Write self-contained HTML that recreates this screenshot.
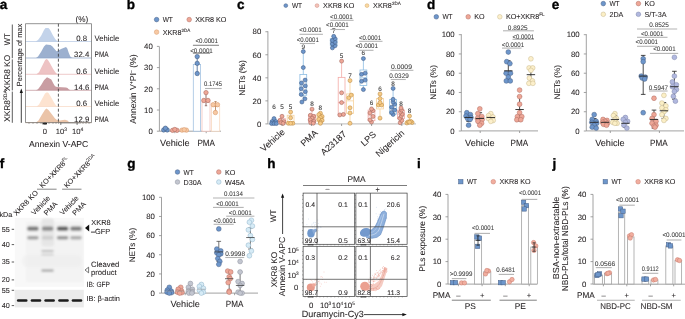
<!DOCTYPE html>
<html><head><meta charset="utf-8"><style>
html,body{margin:0;padding:0;background:#fff;}
svg{display:block;will-change:transform;font-family:"Liberation Sans", sans-serif;text-rendering:geometricPrecision;}
</style></head><body>
<svg width="685" height="319" viewBox="0 0 685 319" xmlns="http://www.w3.org/2000/svg">
<text x="-0.3" y="9.2" font-size="13.5" text-anchor="start" fill="#000" stroke="#000" stroke-width="0.35" font-weight="bold">a</text>
<text x="81.8" y="21.6" font-size="8.2" text-anchor="middle" fill="#231f20" stroke="#231f20" stroke-width="0.07">(%)</text>
<path d="M35.50,41.50 L38.00,40.00 L41.00,36.00 L44.00,30.00 L45.50,28.10 L48.50,28.10 L50.00,29.70 L53.00,35.50 L55.50,39.50 L57.50,41.20 L60.00,41.50 Z" fill="#c3d3ea"/>
<line x1="25.5" y1="41.5" x2="91.5" y2="41.5" stroke="#b3c6e3" stroke-width="0.7"/>
<text x="81.7" y="40.9" font-size="7.8" text-anchor="middle" fill="#231f20" stroke="#231f20" stroke-width="0.07">0.8</text>
<text x="94.6" y="40.9" font-size="7.8" text-anchor="start" fill="#231f20" stroke="#231f20" stroke-width="0.07" textLength="24.6" lengthAdjust="spacingAndGlyphs">Vehicle</text>
<path d="M36.00,58.00 L38.00,56.50 L41.00,52.00 L44.00,46.50 L46.00,44.60 L48.00,44.80 L50.50,45.00 L52.50,46.50 L55.00,49.50 L56.50,51.20 L58.50,50.50 L61.00,49.00 L63.50,48.00 L66.00,47.00 L67.30,48.50 L68.80,53.00 L70.30,56.50 L72.00,57.70 L74.00,58.00 Z" fill="#9cb0cf"/>
<line x1="25.5" y1="58.0" x2="91.5" y2="58.0" stroke="#8ea5c7" stroke-width="0.7"/>
<text x="81.7" y="57.4" font-size="7.8" text-anchor="middle" fill="#231f20" stroke="#231f20" stroke-width="0.07">32.4</text>
<text x="94.6" y="57.4" font-size="7.8" text-anchor="start" fill="#231f20" stroke="#231f20" stroke-width="0.07" textLength="14.0" lengthAdjust="spacingAndGlyphs">PMA</text>
<path d="M36.40,74.30 L39.00,72.30 L42.00,66.30 L45.00,60.30 L46.30,59.10 L47.80,59.70 L50.00,63.30 L53.00,68.80 L55.50,72.50 L57.20,74.00 L59.00,74.30 Z" fill="#eec3c4"/>
<line x1="25.5" y1="74.3" x2="91.5" y2="74.3" stroke="#e8b3b5" stroke-width="0.7"/>
<text x="81.7" y="73.7" font-size="7.8" text-anchor="middle" fill="#231f20" stroke="#231f20" stroke-width="0.07">0.6</text>
<text x="94.6" y="73.7" font-size="7.8" text-anchor="start" fill="#231f20" stroke="#231f20" stroke-width="0.07" textLength="24.6" lengthAdjust="spacingAndGlyphs">Vehicle</text>
<path d="M35.90,90.30 L38.00,89.30 L41.00,85.30 L44.00,80.30 L47.00,77.30 L49.00,78.30 L51.30,79.60 L53.50,83.80 L55.00,86.30 L57.00,87.10 L62.00,87.30 L66.00,87.50 L67.50,88.10 L69.00,89.50 L70.50,90.30 Z" fill="#c99da2"/>
<line x1="25.5" y1="90.3" x2="91.5" y2="90.3" stroke="#be8f95" stroke-width="0.7"/>
<text x="81.7" y="89.7" font-size="7.8" text-anchor="middle" fill="#231f20" stroke="#231f20" stroke-width="0.07">14.6</text>
<text x="94.6" y="89.7" font-size="7.8" text-anchor="start" fill="#231f20" stroke="#231f20" stroke-width="0.07" textLength="14.0" lengthAdjust="spacingAndGlyphs">PMA</text>
<path d="M36.60,106.50 L39.00,104.50 L42.00,99.00 L45.00,93.50 L47.00,92.20 L48.50,93.00 L51.00,97.00 L54.00,102.50 L56.00,105.50 L57.50,106.50 L59.00,106.50 Z" fill="#fde3d0"/>
<line x1="25.5" y1="106.5" x2="91.5" y2="106.5" stroke="#f8d7c1" stroke-width="0.7"/>
<text x="81.7" y="105.9" font-size="7.8" text-anchor="middle" fill="#231f20" stroke="#231f20" stroke-width="0.07">0.6</text>
<text x="94.6" y="105.9" font-size="7.8" text-anchor="start" fill="#231f20" stroke="#231f20" stroke-width="0.07" textLength="24.6" lengthAdjust="spacingAndGlyphs">Vehicle</text>
<path d="M36.00,122.60 L38.50,120.60 L42.00,114.60 L45.00,109.80 L46.50,108.40 L48.50,110.10 L52.00,114.60 L55.00,118.60 L57.00,120.10 L60.00,120.40 L63.00,120.00 L65.00,119.80 L67.50,120.60 L69.00,122.10 L70.50,122.60 Z" fill="#ebc4a8"/>
<line x1="25.5" y1="122.6" x2="91.5" y2="122.6" stroke="#e2b797" stroke-width="0.7"/>
<text x="81.7" y="122.0" font-size="7.8" text-anchor="middle" fill="#231f20" stroke="#231f20" stroke-width="0.07">12.9</text>
<text x="94.6" y="122.0" font-size="7.8" text-anchor="start" fill="#231f20" stroke="#231f20" stroke-width="0.07" textLength="14.0" lengthAdjust="spacingAndGlyphs">PMA</text>
<line x1="25.5" y1="23.7" x2="91.5" y2="23.7" stroke="#777" stroke-width="0.8"/>
<line x1="91.5" y1="23.7" x2="91.5" y2="122.6" stroke="#777" stroke-width="0.8"/>
<line x1="25.5" y1="23.7" x2="25.5" y2="122.6" stroke="#777" stroke-width="0.8"/>
<line x1="25.5" y1="122.6" x2="91.5" y2="122.6" stroke="#777" stroke-width="0.8"/>
<line x1="58.4" y1="23.7" x2="58.4" y2="122.6" stroke="#333" stroke-width="0.8" stroke-dasharray="3,2"/>
<line x1="29" y1="122.6" x2="29" y2="123.89999999999999" stroke="#555" stroke-width="0.5"/>
<line x1="33" y1="122.6" x2="33" y2="123.89999999999999" stroke="#555" stroke-width="0.5"/>
<line x1="37" y1="122.6" x2="37" y2="123.89999999999999" stroke="#555" stroke-width="0.5"/>
<line x1="41" y1="122.6" x2="41" y2="123.89999999999999" stroke="#555" stroke-width="0.5"/>
<line x1="45" y1="122.6" x2="45" y2="123.89999999999999" stroke="#555" stroke-width="0.5"/>
<line x1="49" y1="122.6" x2="49" y2="123.89999999999999" stroke="#555" stroke-width="0.5"/>
<line x1="53" y1="122.6" x2="53" y2="123.89999999999999" stroke="#555" stroke-width="0.5"/>
<line x1="56" y1="122.6" x2="56" y2="123.89999999999999" stroke="#555" stroke-width="0.5"/>
<line x1="58.6" y1="122.6" x2="58.6" y2="123.89999999999999" stroke="#555" stroke-width="0.5"/>
<line x1="62" y1="122.6" x2="62" y2="123.89999999999999" stroke="#555" stroke-width="0.5"/>
<line x1="64" y1="122.6" x2="64" y2="123.89999999999999" stroke="#555" stroke-width="0.5"/>
<line x1="66" y1="122.6" x2="66" y2="123.89999999999999" stroke="#555" stroke-width="0.5"/>
<line x1="68" y1="122.6" x2="68" y2="123.89999999999999" stroke="#555" stroke-width="0.5"/>
<line x1="70" y1="122.6" x2="70" y2="123.89999999999999" stroke="#555" stroke-width="0.5"/>
<line x1="72" y1="122.6" x2="72" y2="123.89999999999999" stroke="#555" stroke-width="0.5"/>
<line x1="74" y1="122.6" x2="74" y2="123.89999999999999" stroke="#555" stroke-width="0.5"/>
<line x1="76" y1="122.6" x2="76" y2="123.89999999999999" stroke="#555" stroke-width="0.5"/>
<line x1="78" y1="122.6" x2="78" y2="123.89999999999999" stroke="#555" stroke-width="0.5"/>
<line x1="80" y1="122.6" x2="80" y2="123.89999999999999" stroke="#555" stroke-width="0.5"/>
<line x1="83" y1="122.6" x2="83" y2="123.89999999999999" stroke="#555" stroke-width="0.5"/>
<line x1="86" y1="122.6" x2="86" y2="123.89999999999999" stroke="#555" stroke-width="0.5"/>
<line x1="89" y1="122.6" x2="89" y2="123.89999999999999" stroke="#555" stroke-width="0.5"/>
<rect x="42.5" y="122.8" width="4.5" height="1.6" fill="#222"/>
<line x1="45.0" y1="122.6" x2="45.0" y2="124.89999999999999" stroke="#333" stroke-width="0.7"/>
<line x1="60.8" y1="122.6" x2="60.8" y2="124.89999999999999" stroke="#333" stroke-width="0.7"/>
<line x1="77.1" y1="122.6" x2="77.1" y2="124.89999999999999" stroke="#333" stroke-width="0.7"/>
<text x="44.9" y="134.4" font-size="7.6" text-anchor="middle" fill="#231f20" stroke="#231f20" stroke-width="0.07">0</text>
<text x="61.3" y="134.4" font-size="7.6" text-anchor="middle" fill="#231f20" stroke="#231f20" stroke-width="0.07">10<tspan font-size="5" dy="-3">3</tspan></text>
<text x="77.6" y="134.4" font-size="7.6" text-anchor="middle" fill="#231f20" stroke="#231f20" stroke-width="0.07">10<tspan font-size="5" dy="-3">4</tspan></text>
<text x="58.7" y="146.5" font-size="8.6" text-anchor="middle" fill="#231f20" stroke="#231f20" stroke-width="0.07">Annexin V-APC</text>
<text x="21.7" y="55.0" font-size="7.45" text-anchor="middle" fill="#231f20" stroke="#231f20" stroke-width="0.07" transform="rotate(-90 21.7 55.0)">Percentage of max</text>
<line x1="21.3" y1="122.8" x2="21.3" y2="92" stroke="#111" stroke-width="0.8"/>
<path d="M21.3,88.6 L19.7,93.0 L22.9,93.0 Z" fill="#111"/>
<line x1="12.3" y1="24.5" x2="12.3" y2="58.2" stroke="#333" stroke-width="0.8"/>
<line x1="12.3" y1="59.4" x2="12.3" y2="90.4" stroke="#333" stroke-width="0.8"/>
<line x1="12.3" y1="91.6" x2="12.3" y2="122.8" stroke="#333" stroke-width="0.8"/>
<text x="10.4" y="39.2" font-size="8.3" text-anchor="middle" fill="#231f20" stroke="#231f20" stroke-width="0.07" transform="rotate(-90 10.4 39.2)" textLength="12" lengthAdjust="spacingAndGlyphs">WT</text>
<text x="10.4" y="72.9" font-size="8.3" text-anchor="middle" fill="#231f20" stroke="#231f20" stroke-width="0.07" transform="rotate(-90 10.4 72.9)">XKR8 KO</text>
<text x="10.4" y="106.0" font-size="8.3" text-anchor="middle" fill="#231f20" stroke="#231f20" stroke-width="0.07" transform="rotate(-90 10.4 106.0)">XKR8<tspan font-size="5.1" dy="-3.2">2DA</tspan></text>
<text x="126.8" y="9.2" font-size="13.5" text-anchor="start" fill="#000" stroke="#000" stroke-width="0.35" font-weight="bold">b</text>
<circle cx="156.60" cy="19.60" r="2.3" fill="#6d96cb" stroke="#465f85" stroke-width="0.5"/>
<text x="162.7" y="22.200000000000003" font-size="7.2" text-anchor="start" fill="#231f20" stroke="#231f20" stroke-width="0.07" textLength="10.2" lengthAdjust="spacingAndGlyphs">WT</text>
<circle cx="189.20" cy="19.60" r="2.3" fill="#eea797" stroke="#b06d62" stroke-width="0.5"/>
<text x="195.29999999999998" y="22.200000000000003" font-size="7.2" text-anchor="start" fill="#231f20" stroke="#231f20" stroke-width="0.07">XKR8 KO</text>
<circle cx="156.60" cy="32.10" r="2.3" fill="#f7c9a3" stroke="#d89a6e" stroke-width="0.5"/>
<text x="162.7" y="34.7" font-size="7.2" text-anchor="start" fill="#231f20" stroke="#231f20" stroke-width="0.07">XKR8<tspan font-size="4.6" dy="-3">2DA</tspan></text>
<line x1="159.4" y1="46.6" x2="159.4" y2="131.2" stroke="#8a8a8a" stroke-width="0.8"/>
<line x1="156.9" y1="131.2" x2="159.4" y2="131.2" stroke="#8a8a8a" stroke-width="0.8"/>
<text x="152.8" y="133.95" font-size="7.8" text-anchor="end" fill="#231f20" stroke="#231f20" stroke-width="0.07">0</text>
<line x1="156.9" y1="109.99999999999999" x2="159.4" y2="109.99999999999999" stroke="#8a8a8a" stroke-width="0.8"/>
<text x="152.8" y="112.74999999999999" font-size="7.8" text-anchor="end" fill="#231f20" stroke="#231f20" stroke-width="0.07">10</text>
<line x1="156.9" y1="88.79999999999998" x2="159.4" y2="88.79999999999998" stroke="#8a8a8a" stroke-width="0.8"/>
<text x="152.8" y="91.54999999999998" font-size="7.8" text-anchor="end" fill="#231f20" stroke="#231f20" stroke-width="0.07">20</text>
<line x1="156.9" y1="67.6" x2="159.4" y2="67.6" stroke="#8a8a8a" stroke-width="0.8"/>
<text x="152.8" y="70.35" font-size="7.8" text-anchor="end" fill="#231f20" stroke="#231f20" stroke-width="0.07">30</text>
<line x1="156.9" y1="46.39999999999998" x2="159.4" y2="46.39999999999998" stroke="#8a8a8a" stroke-width="0.8"/>
<text x="152.8" y="49.14999999999998" font-size="7.8" text-anchor="end" fill="#231f20" stroke="#231f20" stroke-width="0.07">40</text>
<line x1="159.4" y1="131.2" x2="221" y2="131.2" stroke="#8a8a8a" stroke-width="0.8"/>
<line x1="174.8" y1="131.2" x2="174.8" y2="133.2" stroke="#8a8a8a" stroke-width="0.8"/>
<line x1="206.2" y1="131.2" x2="206.2" y2="133.2" stroke="#8a8a8a" stroke-width="0.8"/>
<text x="174.8" y="145.8" font-size="9" text-anchor="middle" fill="#231f20" stroke="#231f20" stroke-width="0.07" textLength="29.5" lengthAdjust="spacingAndGlyphs">Vehicle</text>
<text x="206.2" y="145.8" font-size="9" text-anchor="middle" fill="#231f20" stroke="#231f20" stroke-width="0.07" textLength="17.6" lengthAdjust="spacingAndGlyphs">PMA</text>
<text x="135.9" y="89.0" font-size="8.7" text-anchor="middle" fill="#231f20" stroke="#231f20" stroke-width="0.07" transform="rotate(-90 135.9 89.0)">Annexin V<tspan font-size="5" dy="-3">+</tspan><tspan dy="3">PI</tspan><tspan font-size="5" dy="-3">–</tspan><tspan dy="3"> (%)</tspan></text>
<rect x="193.3" y="64.41999999999999" width="7.3" height="66.78" fill="#ffffff" stroke="#a3c2e2" stroke-width="0.8"/>
<rect x="202.0" y="101.94399999999999" width="8.0" height="29.256" fill="#ffffff" stroke="#f2c4bd" stroke-width="0.8"/>
<rect x="211.4" y="106.18399999999998" width="8.3" height="25.016000000000005" fill="#ffffff" stroke="#f8d9c0" stroke-width="0.8"/>
<line x1="197.2" y1="72.89999999999998" x2="197.2" y2="56.57599999999998" stroke="#41628f" stroke-width="0.8"/>
<line x1="195.2" y1="64.41999999999999" x2="199.2" y2="64.41999999999999" stroke="#41628f" stroke-width="0.8"/>
<line x1="196.0" y1="72.89999999999998" x2="198.39999999999998" y2="72.89999999999998" stroke="#41628f" stroke-width="0.7"/>
<line x1="196.0" y1="56.57599999999998" x2="198.39999999999998" y2="56.57599999999998" stroke="#41628f" stroke-width="0.7"/>
<line x1="206.0" y1="105.75999999999999" x2="206.0" y2="93.03999999999999" stroke="#7a4a45" stroke-width="0.8"/>
<line x1="204.0" y1="100.45999999999998" x2="208.0" y2="100.45999999999998" stroke="#7a4a45" stroke-width="0.8"/>
<line x1="204.8" y1="105.75999999999999" x2="207.2" y2="105.75999999999999" stroke="#7a4a45" stroke-width="0.7"/>
<line x1="204.8" y1="93.03999999999999" x2="207.2" y2="93.03999999999999" stroke="#7a4a45" stroke-width="0.7"/>
<line x1="215.5" y1="111.05999999999999" x2="215.5" y2="101.51999999999998" stroke="#b07a50" stroke-width="0.8"/>
<line x1="213.5" y1="106.18399999999998" x2="217.5" y2="106.18399999999998" stroke="#b07a50" stroke-width="0.8"/>
<line x1="214.3" y1="111.05999999999999" x2="216.7" y2="111.05999999999999" stroke="#b07a50" stroke-width="0.7"/>
<line x1="214.3" y1="101.51999999999998" x2="216.7" y2="101.51999999999998" stroke="#b07a50" stroke-width="0.7"/>
<circle cx="197.20" cy="56.58" r="2.2" fill="#6d96cb" stroke="#465f85" stroke-width="0.6"/>
<circle cx="197.20" cy="63.36" r="2.2" fill="#6d96cb" stroke="#465f85" stroke-width="0.6"/>
<circle cx="197.20" cy="73.54" r="2.2" fill="#6d96cb" stroke="#465f85" stroke-width="0.6"/>
<circle cx="206.00" cy="92.62" r="2.2" fill="#eea797" stroke="#b06d62" stroke-width="0.6"/>
<circle cx="203.80" cy="100.46" r="2.2" fill="#eea797" stroke="#b06d62" stroke-width="0.6"/>
<circle cx="208.00" cy="100.46" r="2.2" fill="#eea797" stroke="#b06d62" stroke-width="0.6"/>
<circle cx="213.20" cy="104.70" r="2.2" fill="#f7c9a3" stroke="#d89a6e" stroke-width="0.6"/>
<circle cx="217.50" cy="104.70" r="2.2" fill="#f7c9a3" stroke="#d89a6e" stroke-width="0.6"/>
<circle cx="215.40" cy="112.54" r="2.2" fill="#f7c9a3" stroke="#d89a6e" stroke-width="0.6"/>
<circle cx="163.70" cy="129.93" r="2.2" fill="#6d96cb" stroke="#465f85" stroke-width="0.6"/>
<circle cx="167.20" cy="129.93" r="2.2" fill="#6d96cb" stroke="#465f85" stroke-width="0.6"/>
<circle cx="165.40" cy="128.23" r="2.2" fill="#6d96cb" stroke="#465f85" stroke-width="0.6"/>
<circle cx="172.60" cy="130.35" r="2.2" fill="#eea797" stroke="#b06d62" stroke-width="0.6"/>
<circle cx="177.00" cy="130.35" r="2.2" fill="#eea797" stroke="#b06d62" stroke-width="0.6"/>
<circle cx="174.80" cy="129.50" r="2.2" fill="#eea797" stroke="#b06d62" stroke-width="0.6"/>
<circle cx="182.00" cy="130.14" r="2.2" fill="#f7c9a3" stroke="#d89a6e" stroke-width="0.6"/>
<circle cx="186.40" cy="130.14" r="2.2" fill="#f7c9a3" stroke="#d89a6e" stroke-width="0.6"/>
<circle cx="184.20" cy="129.72" r="2.2" fill="#f7c9a3" stroke="#d89a6e" stroke-width="0.6"/>
<line x1="192.9" y1="45.3" x2="219.0" y2="45.3" stroke="#8a8a8a" stroke-width="1.1"/>
<text x="206.7" y="42.9" font-size="6.6" text-anchor="middle" fill="#3a3a3a" stroke="#3a3a3a" stroke-width="0.07" textLength="22.6" lengthAdjust="spacingAndGlyphs">&lt;0.0001</text>
<line x1="192.9" y1="53.2" x2="210.1" y2="53.2" stroke="#8a8a8a" stroke-width="1.1"/>
<text x="201.5" y="52.6" font-size="6.6" text-anchor="middle" fill="#3a3a3a" stroke="#3a3a3a" stroke-width="0.07" textLength="22.6" lengthAdjust="spacingAndGlyphs">&lt;0.0001</text>
<line x1="205.0" y1="88.5" x2="221.7" y2="88.5" stroke="#b4b4b4" stroke-width="1.1"/>
<text x="213.0" y="86.3" font-size="6.6" text-anchor="middle" fill="#3a3a3a" stroke="#3a3a3a" stroke-width="0.07" textLength="18.0" lengthAdjust="spacingAndGlyphs">0.1745</text>
<text x="237.0" y="9.2" font-size="13.5" text-anchor="start" fill="#000" stroke="#000" stroke-width="0.35" font-weight="bold">c</text>
<circle cx="285.80" cy="5.60" r="1.9" fill="#6d96cb" stroke="#465f85" stroke-width="0.5"/>
<text x="291.90000000000003" y="8.2" font-size="7.2" text-anchor="start" fill="#231f20" stroke="#231f20" stroke-width="0.07" textLength="10.2" lengthAdjust="spacingAndGlyphs">WT</text>
<circle cx="317.00" cy="5.60" r="1.9" fill="#f3c3b9" stroke="#cf8a7e" stroke-width="0.5"/>
<text x="323.1" y="8.2" font-size="7.2" text-anchor="start" fill="#231f20" stroke="#231f20" stroke-width="0.07">XKR8 KO</text>
<circle cx="367.00" cy="5.60" r="1.9" fill="#f8d9a4" stroke="#d6a55e" stroke-width="0.5"/>
<text x="373.1" y="8.2" font-size="7.2" text-anchor="start" fill="#231f20" stroke="#231f20" stroke-width="0.07">XKR8<tspan font-size="4.6" dy="-3">2DA</tspan></text>
<line x1="267.9" y1="31.3" x2="267.9" y2="123.9" stroke="#8a8a8a" stroke-width="0.8"/>
<line x1="265.4" y1="123.9" x2="267.9" y2="123.9" stroke="#8a8a8a" stroke-width="0.8"/>
<text x="261.29999999999995" y="126.65" font-size="7.8" text-anchor="end" fill="#231f20" stroke="#231f20" stroke-width="0.07">0</text>
<line x1="265.4" y1="100.86000000000001" x2="267.9" y2="100.86000000000001" stroke="#8a8a8a" stroke-width="0.8"/>
<text x="261.29999999999995" y="103.61000000000001" font-size="7.8" text-anchor="end" fill="#231f20" stroke="#231f20" stroke-width="0.07">20</text>
<line x1="265.4" y1="77.82000000000001" x2="267.9" y2="77.82000000000001" stroke="#8a8a8a" stroke-width="0.8"/>
<text x="261.29999999999995" y="80.57000000000001" font-size="7.8" text-anchor="end" fill="#231f20" stroke="#231f20" stroke-width="0.07">40</text>
<line x1="265.4" y1="54.780000000000015" x2="267.9" y2="54.780000000000015" stroke="#8a8a8a" stroke-width="0.8"/>
<text x="261.29999999999995" y="57.530000000000015" font-size="7.8" text-anchor="end" fill="#231f20" stroke="#231f20" stroke-width="0.07">60</text>
<line x1="265.4" y1="31.74000000000001" x2="267.9" y2="31.74000000000001" stroke="#8a8a8a" stroke-width="0.8"/>
<text x="261.29999999999995" y="34.49000000000001" font-size="7.8" text-anchor="end" fill="#231f20" stroke="#231f20" stroke-width="0.07">80</text>
<line x1="267.9" y1="123.9" x2="416" y2="123.9" stroke="#c8c8c8" stroke-width="1.1"/>
<text x="245.2" y="78.0" font-size="8.4" text-anchor="middle" fill="#231f20" stroke="#231f20" stroke-width="0.07" transform="rotate(-90 245.2 78.0)">NETs (%)</text>
<line x1="274.0" y1="118.6008" x2="274.0" y2="121.02000000000001" stroke="#8dbde3" stroke-width="0.8"/>
<line x1="274.0" y1="123.5544" x2="274.0" y2="123.9" stroke="#8dbde3" stroke-width="0.8"/>
<rect x="270.6" y="121.02000000000001" width="6.8" height="2.534399999999991" fill="none" stroke="#8dbde3" stroke-width="0.8"/>
<line x1="270.6" y1="122.748" x2="277.4" y2="122.748" stroke="#8dbde3" stroke-width="0.8"/>
<circle cx="274.00" cy="118.60" r="2.0" fill="#6d96cb" stroke="#3c5882" stroke-width="0.55"/>
<circle cx="272.00" cy="121.60" r="2.0" fill="#6d96cb" stroke="#3c5882" stroke-width="0.55"/>
<circle cx="276.00" cy="121.60" r="2.0" fill="#6d96cb" stroke="#3c5882" stroke-width="0.55"/>
<circle cx="271.60" cy="123.55" r="2.0" fill="#6d96cb" stroke="#3c5882" stroke-width="0.55"/>
<circle cx="274.00" cy="123.55" r="2.0" fill="#6d96cb" stroke="#3c5882" stroke-width="0.55"/>
<circle cx="276.40" cy="123.55" r="2.0" fill="#6d96cb" stroke="#3c5882" stroke-width="0.55"/>
<text x="274.0" y="109.0" font-size="6.4" text-anchor="middle" fill="#333" stroke="#333" stroke-width="0.07">6</text>
<line x1="282.0" y1="116.2968" x2="282.0" y2="118.71600000000001" stroke="#f3aaa6" stroke-width="0.8"/>
<line x1="282.0" y1="122.97840000000001" x2="282.0" y2="123.4392" stroke="#f3aaa6" stroke-width="0.8"/>
<rect x="278.6" y="118.71600000000001" width="6.8" height="4.2623999999999995" fill="none" stroke="#f3aaa6" stroke-width="0.8"/>
<line x1="278.6" y1="121.596" x2="285.4" y2="121.596" stroke="#f3aaa6" stroke-width="0.8"/>
<circle cx="282.00" cy="116.30" r="2.0" fill="#eea797" stroke="#9e6158" stroke-width="0.55"/>
<circle cx="280.20" cy="120.44" r="2.0" fill="#eea797" stroke="#9e6158" stroke-width="0.55"/>
<circle cx="283.80" cy="121.60" r="2.0" fill="#eea797" stroke="#9e6158" stroke-width="0.55"/>
<circle cx="281.00" cy="122.75" r="2.0" fill="#eea797" stroke="#9e6158" stroke-width="0.55"/>
<circle cx="283.00" cy="123.44" r="2.0" fill="#eea797" stroke="#9e6158" stroke-width="0.55"/>
<text x="282.0" y="109.0" font-size="6.4" text-anchor="middle" fill="#333" stroke="#333" stroke-width="0.07">5</text>
<line x1="290.6" y1="112.0344" x2="290.6" y2="115.26" stroke="#f7d39c" stroke-width="0.8"/>
<line x1="290.6" y1="123.32400000000001" x2="290.6" y2="123.5544" stroke="#f7d39c" stroke-width="0.8"/>
<rect x="287.20000000000005" y="115.26" width="6.8" height="8.064000000000007" fill="none" stroke="#f7d39c" stroke-width="0.8"/>
<line x1="287.20000000000005" y1="121.596" x2="294.0" y2="121.596" stroke="#f7d39c" stroke-width="0.8"/>
<circle cx="290.60" cy="112.03" r="2.0" fill="#f7cb85" stroke="#b98a45" stroke-width="0.55"/>
<circle cx="290.60" cy="117.79" r="2.0" fill="#f7cb85" stroke="#b98a45" stroke-width="0.55"/>
<circle cx="288.40" cy="123.32" r="2.0" fill="#f7cb85" stroke="#b98a45" stroke-width="0.55"/>
<circle cx="292.80" cy="123.32" r="2.0" fill="#f7cb85" stroke="#b98a45" stroke-width="0.55"/>
<circle cx="290.60" cy="123.32" r="2.0" fill="#f7cb85" stroke="#b98a45" stroke-width="0.55"/>
<text x="290.6" y="109.0" font-size="6.4" text-anchor="middle" fill="#333" stroke="#333" stroke-width="0.07">5</text>
<line x1="303.3" y1="51.554400000000015" x2="303.3" y2="74.47920000000002" stroke="#8dbde3" stroke-width="0.8"/>
<line x1="303.3" y1="95.21520000000001" x2="303.3" y2="102.012" stroke="#8dbde3" stroke-width="0.8"/>
<rect x="299.90000000000003" y="74.47920000000002" width="6.8" height="20.73599999999999" fill="none" stroke="#8dbde3" stroke-width="0.8"/>
<line x1="299.90000000000003" y1="85.88400000000001" x2="306.7" y2="85.88400000000001" stroke="#8dbde3" stroke-width="0.8"/>
<circle cx="301.90" cy="102.01" r="2.0" fill="#6d96cb" stroke="#3c5882" stroke-width="0.55"/>
<circle cx="304.90" cy="98.79" r="2.0" fill="#6d96cb" stroke="#3c5882" stroke-width="0.55"/>
<circle cx="301.30" cy="94.52" r="2.0" fill="#6d96cb" stroke="#3c5882" stroke-width="0.55"/>
<circle cx="305.30" cy="91.64" r="2.0" fill="#6d96cb" stroke="#3c5882" stroke-width="0.55"/>
<circle cx="301.30" cy="88.76" r="2.0" fill="#6d96cb" stroke="#3c5882" stroke-width="0.55"/>
<circle cx="305.30" cy="85.88" r="2.0" fill="#6d96cb" stroke="#3c5882" stroke-width="0.55"/>
<circle cx="301.50" cy="83.00" r="2.0" fill="#6d96cb" stroke="#3c5882" stroke-width="0.55"/>
<circle cx="305.10" cy="80.12" r="2.0" fill="#6d96cb" stroke="#3c5882" stroke-width="0.55"/>
<circle cx="303.30" cy="67.57" r="2.0" fill="#6d96cb" stroke="#3c5882" stroke-width="0.55"/>
<circle cx="303.30" cy="51.55" r="2.0" fill="#6d96cb" stroke="#3c5882" stroke-width="0.55"/>
<text x="303.3" y="49.0" font-size="6.4" text-anchor="middle" fill="#333" stroke="#333" stroke-width="0.07">9</text>
<line x1="312.0" y1="109.15440000000001" x2="312.0" y2="114.68400000000001" stroke="#f3aaa6" stroke-width="0.8"/>
<line x1="312.0" y1="122.17200000000001" x2="312.0" y2="123.20880000000001" stroke="#f3aaa6" stroke-width="0.8"/>
<rect x="308.6" y="114.68400000000001" width="6.8" height="7.4879999999999995" fill="none" stroke="#f3aaa6" stroke-width="0.8"/>
<line x1="308.6" y1="118.71600000000001" x2="315.4" y2="118.71600000000001" stroke="#f3aaa6" stroke-width="0.8"/>
<circle cx="312.00" cy="109.15" r="2.0" fill="#eea797" stroke="#9e6158" stroke-width="0.55"/>
<circle cx="310.40" cy="115.26" r="2.0" fill="#eea797" stroke="#9e6158" stroke-width="0.55"/>
<circle cx="313.60" cy="116.41" r="2.0" fill="#eea797" stroke="#9e6158" stroke-width="0.55"/>
<circle cx="312.00" cy="118.14" r="2.0" fill="#eea797" stroke="#9e6158" stroke-width="0.55"/>
<circle cx="310.20" cy="119.87" r="2.0" fill="#eea797" stroke="#9e6158" stroke-width="0.55"/>
<circle cx="313.80" cy="121.37" r="2.0" fill="#eea797" stroke="#9e6158" stroke-width="0.55"/>
<circle cx="310.80" cy="122.75" r="2.0" fill="#eea797" stroke="#9e6158" stroke-width="0.55"/>
<circle cx="313.20" cy="123.21" r="2.0" fill="#eea797" stroke="#9e6158" stroke-width="0.55"/>
<text x="312.0" y="105.6" font-size="6.4" text-anchor="middle" fill="#333" stroke="#333" stroke-width="0.07">8</text>
<line x1="320.4" y1="113.1864" x2="320.4" y2="115.83600000000001" stroke="#f7d39c" stroke-width="0.8"/>
<line x1="320.4" y1="121.596" x2="320.4" y2="123.32400000000001" stroke="#f7d39c" stroke-width="0.8"/>
<rect x="317.0" y="115.83600000000001" width="6.8" height="5.759999999999991" fill="none" stroke="#f7d39c" stroke-width="0.8"/>
<line x1="317.0" y1="118.71600000000001" x2="323.79999999999995" y2="118.71600000000001" stroke="#f7d39c" stroke-width="0.8"/>
<circle cx="320.40" cy="113.19" r="2.0" fill="#f7cb85" stroke="#b98a45" stroke-width="0.55"/>
<circle cx="318.80" cy="114.68" r="2.0" fill="#f7cb85" stroke="#b98a45" stroke-width="0.55"/>
<circle cx="322.00" cy="116.41" r="2.0" fill="#f7cb85" stroke="#b98a45" stroke-width="0.55"/>
<circle cx="320.40" cy="117.56" r="2.0" fill="#f7cb85" stroke="#b98a45" stroke-width="0.55"/>
<circle cx="318.80" cy="119.29" r="2.0" fill="#f7cb85" stroke="#b98a45" stroke-width="0.55"/>
<circle cx="322.00" cy="120.44" r="2.0" fill="#f7cb85" stroke="#b98a45" stroke-width="0.55"/>
<circle cx="320.40" cy="122.17" r="2.0" fill="#f7cb85" stroke="#b98a45" stroke-width="0.55"/>
<circle cx="320.40" cy="123.32" r="2.0" fill="#f7cb85" stroke="#b98a45" stroke-width="0.55"/>
<text x="320.4" y="109.6" font-size="6.4" text-anchor="middle" fill="#333" stroke="#333" stroke-width="0.07">8</text>
<line x1="333.7" y1="36.34800000000001" x2="333.7" y2="38.652000000000015" stroke="#8dbde3" stroke-width="0.8"/>
<line x1="333.7" y1="45.56400000000001" x2="333.7" y2="47.86800000000001" stroke="#8dbde3" stroke-width="0.8"/>
<rect x="330.3" y="38.652000000000015" width="6.8" height="6.911999999999992" fill="none" stroke="#8dbde3" stroke-width="0.8"/>
<line x1="330.3" y1="42.10800000000002" x2="337.09999999999997" y2="42.10800000000002" stroke="#8dbde3" stroke-width="0.8"/>
<circle cx="332.40" cy="47.87" r="2.0" fill="#6d96cb" stroke="#3c5882" stroke-width="0.55"/>
<circle cx="335.00" cy="45.79" r="2.0" fill="#6d96cb" stroke="#3c5882" stroke-width="0.55"/>
<circle cx="332.40" cy="43.84" r="2.0" fill="#6d96cb" stroke="#3c5882" stroke-width="0.55"/>
<circle cx="335.00" cy="42.11" r="2.0" fill="#6d96cb" stroke="#3c5882" stroke-width="0.55"/>
<circle cx="332.40" cy="40.38" r="2.0" fill="#6d96cb" stroke="#3c5882" stroke-width="0.55"/>
<circle cx="335.00" cy="38.65" r="2.0" fill="#6d96cb" stroke="#3c5882" stroke-width="0.55"/>
<circle cx="333.70" cy="36.35" r="2.0" fill="#6d96cb" stroke="#3c5882" stroke-width="0.55"/>
<text x="333.7" y="33.2" font-size="6.4" text-anchor="middle" fill="#333" stroke="#333" stroke-width="0.07">7</text>
<line x1="341.6" y1="61.116000000000014" x2="341.6" y2="77.35920000000002" stroke="#f3aaa6" stroke-width="0.8"/>
<line x1="341.6" y1="114.68400000000001" x2="341.6" y2="114.9144" stroke="#f3aaa6" stroke-width="0.8"/>
<rect x="338.20000000000005" y="77.35920000000002" width="6.8" height="37.324799999999996" fill="none" stroke="#f3aaa6" stroke-width="0.8"/>
<line x1="338.20000000000005" y1="102.58800000000001" x2="345.0" y2="102.58800000000001" stroke="#f3aaa6" stroke-width="0.8"/>
<circle cx="339.80" cy="114.91" r="2.0" fill="#eea797" stroke="#9e6158" stroke-width="0.55"/>
<circle cx="343.40" cy="114.45" r="2.0" fill="#eea797" stroke="#9e6158" stroke-width="0.55"/>
<circle cx="341.60" cy="102.59" r="2.0" fill="#eea797" stroke="#9e6158" stroke-width="0.55"/>
<circle cx="341.60" cy="92.80" r="2.0" fill="#eea797" stroke="#9e6158" stroke-width="0.55"/>
<circle cx="341.60" cy="61.12" r="2.0" fill="#eea797" stroke="#9e6158" stroke-width="0.55"/>
<text x="341.6" y="58.2" font-size="6.4" text-anchor="middle" fill="#333" stroke="#333" stroke-width="0.07">5</text>
<line x1="350.0" y1="80.5848" x2="350.0" y2="93.94800000000001" stroke="#f7d39c" stroke-width="0.8"/>
<line x1="350.0" y1="113.53200000000001" x2="350.0" y2="123.32400000000001" stroke="#f7d39c" stroke-width="0.8"/>
<rect x="346.6" y="93.94800000000001" width="6.8" height="19.584000000000003" fill="none" stroke="#f7d39c" stroke-width="0.8"/>
<line x1="346.6" y1="100.86000000000001" x2="353.4" y2="100.86000000000001" stroke="#f7d39c" stroke-width="0.8"/>
<circle cx="350.00" cy="123.32" r="2.0" fill="#f7cb85" stroke="#b98a45" stroke-width="0.55"/>
<circle cx="350.00" cy="112.96" r="2.0" fill="#f7cb85" stroke="#b98a45" stroke-width="0.55"/>
<circle cx="350.00" cy="107.77" r="2.0" fill="#f7cb85" stroke="#b98a45" stroke-width="0.55"/>
<circle cx="348.80" cy="97.75" r="2.0" fill="#f7cb85" stroke="#b98a45" stroke-width="0.55"/>
<circle cx="351.20" cy="95.10" r="2.0" fill="#f7cb85" stroke="#b98a45" stroke-width="0.55"/>
<circle cx="350.00" cy="80.58" r="2.0" fill="#f7cb85" stroke="#b98a45" stroke-width="0.55"/>
<text x="350.0" y="77.8" font-size="6.4" text-anchor="middle" fill="#333" stroke="#333" stroke-width="0.07">7</text>
<line x1="363.4" y1="58.58160000000001" x2="363.4" y2="69.9864" stroke="#8dbde3" stroke-width="0.8"/>
<line x1="363.4" y1="85.53840000000001" x2="363.4" y2="89.5704" stroke="#8dbde3" stroke-width="0.8"/>
<rect x="360.0" y="69.9864" width="6.8" height="15.552000000000007" fill="none" stroke="#8dbde3" stroke-width="0.8"/>
<line x1="360.0" y1="77.82000000000001" x2="366.79999999999995" y2="77.82000000000001" stroke="#8dbde3" stroke-width="0.8"/>
<circle cx="363.40" cy="89.57" r="2.0" fill="#6d96cb" stroke="#3c5882" stroke-width="0.55"/>
<circle cx="361.60" cy="81.28" r="2.0" fill="#6d96cb" stroke="#3c5882" stroke-width="0.55"/>
<circle cx="365.20" cy="80.12" r="2.0" fill="#6d96cb" stroke="#3c5882" stroke-width="0.55"/>
<circle cx="361.60" cy="74.36" r="2.0" fill="#6d96cb" stroke="#3c5882" stroke-width="0.55"/>
<circle cx="365.20" cy="73.21" r="2.0" fill="#6d96cb" stroke="#3c5882" stroke-width="0.55"/>
<circle cx="363.40" cy="58.58" r="2.0" fill="#6d96cb" stroke="#3c5882" stroke-width="0.55"/>
<text x="363.4" y="55.0" font-size="6.4" text-anchor="middle" fill="#333" stroke="#333" stroke-width="0.07">6</text>
<line x1="371.5" y1="108.924" x2="371.5" y2="110.07600000000001" stroke="#f3aaa6" stroke-width="0.8"/>
<line x1="371.5" y1="120.6744" x2="371.5" y2="122.05680000000001" stroke="#f3aaa6" stroke-width="0.8"/>
<rect x="368.1" y="110.07600000000001" width="6.8" height="10.598399999999998" fill="none" stroke="#f3aaa6" stroke-width="0.8"/>
<line x1="368.1" y1="115.83600000000001" x2="374.9" y2="115.83600000000001" stroke="#f3aaa6" stroke-width="0.8"/>
<circle cx="371.50" cy="122.06" r="2.0" fill="#eea797" stroke="#9e6158" stroke-width="0.55"/>
<circle cx="370.00" cy="119.87" r="2.0" fill="#eea797" stroke="#9e6158" stroke-width="0.55"/>
<circle cx="373.00" cy="116.41" r="2.0" fill="#eea797" stroke="#9e6158" stroke-width="0.55"/>
<circle cx="370.00" cy="112.96" r="2.0" fill="#eea797" stroke="#9e6158" stroke-width="0.55"/>
<circle cx="373.00" cy="110.65" r="2.0" fill="#eea797" stroke="#9e6158" stroke-width="0.55"/>
<circle cx="371.50" cy="108.92" r="2.0" fill="#eea797" stroke="#9e6158" stroke-width="0.55"/>
<text x="371.5" y="104.6" font-size="6.4" text-anchor="middle" fill="#333" stroke="#333" stroke-width="0.07">6</text>
<line x1="380.0" y1="93.94800000000001" x2="380.0" y2="98.55600000000001" stroke="#f7d39c" stroke-width="0.8"/>
<line x1="380.0" y1="108.924" x2="380.0" y2="118.14" stroke="#f7d39c" stroke-width="0.8"/>
<rect x="376.6" y="98.55600000000001" width="6.8" height="10.367999999999995" fill="none" stroke="#f7d39c" stroke-width="0.8"/>
<line x1="376.6" y1="103.74000000000001" x2="383.4" y2="103.74000000000001" stroke="#f7d39c" stroke-width="0.8"/>
<circle cx="380.00" cy="118.14" r="2.0" fill="#f7cb85" stroke="#b98a45" stroke-width="0.55"/>
<circle cx="378.40" cy="105.01" r="2.0" fill="#f7cb85" stroke="#b98a45" stroke-width="0.55"/>
<circle cx="381.60" cy="105.01" r="2.0" fill="#f7cb85" stroke="#b98a45" stroke-width="0.55"/>
<circle cx="380.00" cy="102.59" r="2.0" fill="#f7cb85" stroke="#b98a45" stroke-width="0.55"/>
<circle cx="380.00" cy="98.56" r="2.0" fill="#f7cb85" stroke="#b98a45" stroke-width="0.55"/>
<circle cx="380.00" cy="93.95" r="2.0" fill="#f7cb85" stroke="#b98a45" stroke-width="0.55"/>
<text x="380.0" y="90.6" font-size="6.4" text-anchor="middle" fill="#333" stroke="#333" stroke-width="0.07">6</text>
<line x1="393.1" y1="88.4184" x2="393.1" y2="99.36240000000001" stroke="#8dbde3" stroke-width="0.8"/>
<line x1="393.1" y1="114.108" x2="393.1" y2="114.45360000000001" stroke="#8dbde3" stroke-width="0.8"/>
<rect x="389.70000000000005" y="99.36240000000001" width="6.8" height="14.745599999999996" fill="none" stroke="#8dbde3" stroke-width="0.8"/>
<line x1="389.70000000000005" y1="108.924" x2="396.5" y2="108.924" stroke="#8dbde3" stroke-width="0.8"/>
<circle cx="393.10" cy="114.45" r="2.0" fill="#6d96cb" stroke="#3c5882" stroke-width="0.55"/>
<circle cx="391.60" cy="112.38" r="2.0" fill="#6d96cb" stroke="#3c5882" stroke-width="0.55"/>
<circle cx="394.60" cy="110.08" r="2.0" fill="#6d96cb" stroke="#3c5882" stroke-width="0.55"/>
<circle cx="391.60" cy="107.20" r="2.0" fill="#6d96cb" stroke="#3c5882" stroke-width="0.55"/>
<circle cx="394.60" cy="104.32" r="2.0" fill="#6d96cb" stroke="#3c5882" stroke-width="0.55"/>
<circle cx="393.10" cy="102.01" r="2.0" fill="#6d96cb" stroke="#3c5882" stroke-width="0.55"/>
<circle cx="393.10" cy="99.36" r="2.0" fill="#6d96cb" stroke="#3c5882" stroke-width="0.55"/>
<circle cx="393.10" cy="88.42" r="2.0" fill="#6d96cb" stroke="#3c5882" stroke-width="0.55"/>
<text x="393.1" y="85.5" font-size="6.4" text-anchor="middle" fill="#333" stroke="#333" stroke-width="0.07">8</text>
<line x1="401.0" y1="108.00240000000001" x2="401.0" y2="110.07600000000001" stroke="#f3aaa6" stroke-width="0.8"/>
<line x1="401.0" y1="118.6008" x2="401.0" y2="122.748" stroke="#f3aaa6" stroke-width="0.8"/>
<rect x="397.6" y="110.07600000000001" width="6.8" height="8.524799999999999" fill="none" stroke="#f3aaa6" stroke-width="0.8"/>
<line x1="397.6" y1="114.68400000000001" x2="404.4" y2="114.68400000000001" stroke="#f3aaa6" stroke-width="0.8"/>
<circle cx="400.20" cy="122.75" r="2.0" fill="#eea797" stroke="#9e6158" stroke-width="0.55"/>
<circle cx="401.80" cy="120.44" r="2.0" fill="#eea797" stroke="#9e6158" stroke-width="0.55"/>
<circle cx="399.80" cy="118.37" r="2.0" fill="#eea797" stroke="#9e6158" stroke-width="0.55"/>
<circle cx="401.30" cy="116.07" r="2.0" fill="#eea797" stroke="#9e6158" stroke-width="0.55"/>
<circle cx="402.20" cy="114.11" r="2.0" fill="#eea797" stroke="#9e6158" stroke-width="0.55"/>
<circle cx="400.40" cy="112.03" r="2.0" fill="#eea797" stroke="#9e6158" stroke-width="0.55"/>
<circle cx="401.60" cy="110.08" r="2.0" fill="#eea797" stroke="#9e6158" stroke-width="0.55"/>
<circle cx="401.00" cy="108.00" r="2.0" fill="#eea797" stroke="#9e6158" stroke-width="0.55"/>
<text x="401.0" y="105.7" font-size="6.4" text-anchor="middle" fill="#333" stroke="#333" stroke-width="0.07">8</text>
<line x1="409.5" y1="116.0664" x2="409.5" y2="121.02000000000001" stroke="#f7d39c" stroke-width="0.8"/>
<line x1="409.5" y1="122.748" x2="409.5" y2="123.32400000000001" stroke="#f7d39c" stroke-width="0.8"/>
<rect x="406.1" y="121.02000000000001" width="6.8" height="1.7279999999999944" fill="none" stroke="#f7d39c" stroke-width="0.8"/>
<line x1="406.1" y1="122.05680000000001" x2="412.9" y2="122.05680000000001" stroke="#f7d39c" stroke-width="0.8"/>
<circle cx="406.90" cy="122.98" r="2.0" fill="#f7cb85" stroke="#b98a45" stroke-width="0.55"/>
<circle cx="412.10" cy="122.52" r="2.0" fill="#f7cb85" stroke="#b98a45" stroke-width="0.55"/>
<circle cx="408.30" cy="121.83" r="2.0" fill="#f7cb85" stroke="#b98a45" stroke-width="0.55"/>
<circle cx="410.70" cy="121.37" r="2.0" fill="#f7cb85" stroke="#b98a45" stroke-width="0.55"/>
<circle cx="409.50" cy="122.17" r="2.0" fill="#f7cb85" stroke="#b98a45" stroke-width="0.55"/>
<circle cx="409.50" cy="116.07" r="2.0" fill="#f7cb85" stroke="#b98a45" stroke-width="0.55"/>
<text x="409.5" y="113.2" font-size="6.4" text-anchor="middle" fill="#333" stroke="#333" stroke-width="0.07">8</text>
<line x1="282.0" y1="123.9" x2="282.0" y2="126" stroke="#888" stroke-width="0.8"/>
<line x1="311.5" y1="123.9" x2="311.5" y2="126" stroke="#888" stroke-width="0.8"/>
<line x1="341.6" y1="123.9" x2="341.6" y2="126" stroke="#888" stroke-width="0.8"/>
<line x1="371.6" y1="123.9" x2="371.6" y2="126" stroke="#888" stroke-width="0.8"/>
<line x1="401.8" y1="123.9" x2="401.8" y2="126" stroke="#888" stroke-width="0.8"/>
<text x="285.4" y="132.8" font-size="9.0" text-anchor="end" fill="#231f20" stroke="#231f20" stroke-width="0.07" transform="rotate(-42 285.4 132.8)">Vehicle</text>
<text x="318.4" y="133.8" font-size="9.0" text-anchor="end" fill="#231f20" stroke="#231f20" stroke-width="0.07" transform="rotate(-42 318.4 133.8)">PMA</text>
<text x="347.0" y="135.0" font-size="9.0" text-anchor="end" fill="#231f20" stroke="#231f20" stroke-width="0.07" transform="rotate(-42 347.0 135.0)">A23187</text>
<text x="376.8" y="135.3" font-size="9.0" text-anchor="end" fill="#231f20" stroke="#231f20" stroke-width="0.07" transform="rotate(-42 376.8 135.3)">LPS</text>
<text x="405.0" y="133.8" font-size="9.0" text-anchor="end" fill="#231f20" stroke="#231f20" stroke-width="0.07" transform="rotate(-42 405.0 133.8)">Nigericin</text>
<line x1="299.5" y1="34.3" x2="322.9" y2="34.3" stroke="#b4b4b4" stroke-width="1.1"/>
<text x="310.5" y="31.9" font-size="6.6" text-anchor="middle" fill="#3a3a3a" stroke="#3a3a3a" stroke-width="0.07" textLength="22.4" lengthAdjust="spacingAndGlyphs">&lt;0.0001</text>
<line x1="299.9" y1="43.5" x2="315.0" y2="43.5" stroke="#b4b4b4" stroke-width="1.1"/>
<text x="307.8" y="41.7" font-size="6.6" text-anchor="middle" fill="#3a3a3a" stroke="#3a3a3a" stroke-width="0.07" textLength="22.0" lengthAdjust="spacingAndGlyphs">&lt;0.0001</text>
<line x1="330.3" y1="20.3" x2="353.6" y2="20.3" stroke="#b4b4b4" stroke-width="1.1"/>
<text x="341.4" y="18.9" font-size="6.6" text-anchor="middle" fill="#3a3a3a" stroke="#3a3a3a" stroke-width="0.07" textLength="22.6" lengthAdjust="spacingAndGlyphs">&lt;0.0001</text>
<line x1="330.3" y1="29.5" x2="345.0" y2="29.5" stroke="#b4b4b4" stroke-width="1.1"/>
<text x="337.4" y="27.2" font-size="6.6" text-anchor="middle" fill="#3a3a3a" stroke="#3a3a3a" stroke-width="0.07" textLength="22.6" lengthAdjust="spacingAndGlyphs">&lt;0.0001</text>
<line x1="359.2" y1="41.3" x2="382.5" y2="41.3" stroke="#b4b4b4" stroke-width="1.1"/>
<text x="370.0" y="39.8" font-size="6.6" text-anchor="middle" fill="#3a3a3a" stroke="#3a3a3a" stroke-width="0.07" textLength="22.1" lengthAdjust="spacingAndGlyphs">&lt;0.0001</text>
<line x1="359.2" y1="50.3" x2="373.5" y2="50.3" stroke="#b4b4b4" stroke-width="1.1"/>
<text x="366.7" y="48.4" font-size="6.6" text-anchor="middle" fill="#3a3a3a" stroke="#3a3a3a" stroke-width="0.07" textLength="22.6" lengthAdjust="spacingAndGlyphs">&lt;0.0001</text>
<line x1="390.4" y1="70.3" x2="413.4" y2="70.3" stroke="#b4b4b4" stroke-width="1.1"/>
<text x="401.5" y="68.5" font-size="6.6" text-anchor="middle" fill="#3a3a3a" stroke="#3a3a3a" stroke-width="0.07" textLength="21.0" lengthAdjust="spacingAndGlyphs">0.0009</text>
<line x1="390.8" y1="79.5" x2="405.8" y2="79.5" stroke="#b4b4b4" stroke-width="1.1"/>
<text x="399.0" y="78.0" font-size="6.6" text-anchor="middle" fill="#3a3a3a" stroke="#3a3a3a" stroke-width="0.07" textLength="19.5" lengthAdjust="spacingAndGlyphs">0.0329</text>
<text x="427.0" y="9.2" font-size="13.5" text-anchor="start" fill="#000" stroke="#000" stroke-width="0.35" font-weight="bold">d</text>
<circle cx="436.30" cy="16.80" r="2.3" fill="#6d96cb" stroke="#465f85" stroke-width="0.5"/>
<text x="442.40000000000003" y="19.400000000000002" font-size="7.2" text-anchor="start" fill="#231f20" stroke="#231f20" stroke-width="0.07" textLength="10.2" lengthAdjust="spacingAndGlyphs">WT</text>
<circle cx="468.20" cy="16.80" r="2.3" fill="#eea797" stroke="#b06d62" stroke-width="0.5"/>
<text x="474.3" y="19.400000000000002" font-size="7.2" text-anchor="start" fill="#231f20" stroke="#231f20" stroke-width="0.07">KO</text>
<circle cx="499.80" cy="16.80" r="2.3" fill="#fcefcb" stroke="#c9b98b" stroke-width="0.5"/>
<text x="505.90000000000003" y="19.400000000000002" font-size="7.2" text-anchor="start" fill="#231f20" stroke="#231f20" stroke-width="0.07">KO+XKR8<tspan font-size="4.6" dy="-3">FL</tspan></text>
<line x1="461.3" y1="34.2" x2="461.3" y2="130.9" stroke="#8a8a8a" stroke-width="0.8"/>
<line x1="458.8" y1="131.0" x2="461.3" y2="131.0" stroke="#8a8a8a" stroke-width="0.8"/>
<text x="454.7" y="133.75" font-size="7.8" text-anchor="end" fill="#231f20" stroke="#231f20" stroke-width="0.07">0</text>
<line x1="458.8" y1="111.74000000000001" x2="461.3" y2="111.74000000000001" stroke="#8a8a8a" stroke-width="0.8"/>
<text x="454.7" y="114.49000000000001" font-size="7.8" text-anchor="end" fill="#231f20" stroke="#231f20" stroke-width="0.07">20</text>
<line x1="458.8" y1="92.48" x2="461.3" y2="92.48" stroke="#8a8a8a" stroke-width="0.8"/>
<text x="454.7" y="95.23" font-size="7.8" text-anchor="end" fill="#231f20" stroke="#231f20" stroke-width="0.07">40</text>
<line x1="458.8" y1="73.22" x2="461.3" y2="73.22" stroke="#8a8a8a" stroke-width="0.8"/>
<text x="454.7" y="75.97" font-size="7.8" text-anchor="end" fill="#231f20" stroke="#231f20" stroke-width="0.07">60</text>
<line x1="458.8" y1="53.96000000000001" x2="461.3" y2="53.96000000000001" stroke="#8a8a8a" stroke-width="0.8"/>
<text x="454.7" y="56.71000000000001" font-size="7.8" text-anchor="end" fill="#231f20" stroke="#231f20" stroke-width="0.07">80</text>
<line x1="458.8" y1="34.7" x2="461.3" y2="34.7" stroke="#8a8a8a" stroke-width="0.8"/>
<text x="454.7" y="37.45" font-size="7.8" text-anchor="end" fill="#231f20" stroke="#231f20" stroke-width="0.07">100</text>
<line x1="461.3" y1="130.9" x2="538" y2="130.9" stroke="#8a8a8a" stroke-width="0.8"/>
<line x1="480.2" y1="130.9" x2="480.2" y2="133" stroke="#8a8a8a" stroke-width="0.8"/>
<line x1="519.6" y1="130.9" x2="519.6" y2="133" stroke="#8a8a8a" stroke-width="0.8"/>
<text x="479.85" y="145.8" font-size="9" text-anchor="middle" fill="#231f20" stroke="#231f20" stroke-width="0.07" textLength="29.5" lengthAdjust="spacingAndGlyphs">Vehicle</text>
<text x="519.3" y="145.8" font-size="9" text-anchor="middle" fill="#231f20" stroke="#231f20" stroke-width="0.07" textLength="17.6" lengthAdjust="spacingAndGlyphs">PMA</text>
<text x="435.6" y="82.4" font-size="8.2" text-anchor="middle" fill="#231f20" stroke="#231f20" stroke-width="0.07" transform="rotate(-90 435.6 82.4)">NETs (%)</text>
<line x1="468.6" y1="121.37" x2="468.6" y2="113.666" stroke="#2a2a2a" stroke-width="0.85"/>
<line x1="466.3" y1="113.666" x2="470.90000000000003" y2="113.666" stroke="#2a2a2a" stroke-width="0.85"/>
<line x1="466.3" y1="121.37" x2="470.90000000000003" y2="121.37" stroke="#2a2a2a" stroke-width="0.85"/>
<line x1="479.8" y1="123.296" x2="479.8" y2="112.703" stroke="#2a2a2a" stroke-width="0.85"/>
<line x1="477.5" y1="112.703" x2="482.1" y2="112.703" stroke="#2a2a2a" stroke-width="0.85"/>
<line x1="477.5" y1="123.296" x2="482.1" y2="123.296" stroke="#2a2a2a" stroke-width="0.85"/>
<line x1="490.8" y1="120.407" x2="490.8" y2="114.629" stroke="#2a2a2a" stroke-width="0.85"/>
<line x1="488.5" y1="114.629" x2="493.1" y2="114.629" stroke="#2a2a2a" stroke-width="0.85"/>
<line x1="488.5" y1="120.407" x2="493.1" y2="120.407" stroke="#2a2a2a" stroke-width="0.85"/>
<line x1="508.3" y1="79.961" x2="508.3" y2="60.70100000000001" stroke="#2a2a2a" stroke-width="0.85"/>
<line x1="506.0" y1="60.70100000000001" x2="510.6" y2="60.70100000000001" stroke="#2a2a2a" stroke-width="0.85"/>
<line x1="506.0" y1="79.961" x2="510.6" y2="79.961" stroke="#2a2a2a" stroke-width="0.85"/>
<line x1="519.6" y1="120.8885" x2="519.6" y2="96.5246" stroke="#2a2a2a" stroke-width="0.85"/>
<line x1="517.3000000000001" y1="96.5246" x2="521.9" y2="96.5246" stroke="#2a2a2a" stroke-width="0.85"/>
<line x1="517.3000000000001" y1="120.8885" x2="521.9" y2="120.8885" stroke="#2a2a2a" stroke-width="0.85"/>
<line x1="530.9" y1="82.85" x2="530.9" y2="66.9605" stroke="#2a2a2a" stroke-width="0.85"/>
<line x1="528.6" y1="66.9605" x2="533.1999999999999" y2="66.9605" stroke="#2a2a2a" stroke-width="0.85"/>
<line x1="528.6" y1="82.85" x2="533.1999999999999" y2="82.85" stroke="#2a2a2a" stroke-width="0.85"/>
<circle cx="466.80" cy="112.70" r="2.4" fill="#6d96cb" stroke="#465f85" stroke-width="0.5"/>
<circle cx="470.40" cy="114.63" r="2.4" fill="#6d96cb" stroke="#465f85" stroke-width="0.5"/>
<circle cx="466.00" cy="116.07" r="2.4" fill="#6d96cb" stroke="#465f85" stroke-width="0.5"/>
<circle cx="471.00" cy="117.52" r="2.4" fill="#6d96cb" stroke="#465f85" stroke-width="0.5"/>
<circle cx="467.60" cy="118.48" r="2.4" fill="#6d96cb" stroke="#465f85" stroke-width="0.5"/>
<circle cx="470.10" cy="119.44" r="2.4" fill="#6d96cb" stroke="#465f85" stroke-width="0.5"/>
<circle cx="468.60" cy="125.22" r="2.4" fill="#6d96cb" stroke="#465f85" stroke-width="0.5"/>
<circle cx="479.80" cy="108.85" r="2.4" fill="#eea797" stroke="#b06d62" stroke-width="0.5"/>
<circle cx="477.80" cy="113.67" r="2.4" fill="#eea797" stroke="#b06d62" stroke-width="0.5"/>
<circle cx="481.80" cy="116.56" r="2.4" fill="#eea797" stroke="#b06d62" stroke-width="0.5"/>
<circle cx="477.40" cy="118.48" r="2.4" fill="#eea797" stroke="#b06d62" stroke-width="0.5"/>
<circle cx="482.20" cy="119.44" r="2.4" fill="#eea797" stroke="#b06d62" stroke-width="0.5"/>
<circle cx="478.00" cy="121.37" r="2.4" fill="#eea797" stroke="#b06d62" stroke-width="0.5"/>
<circle cx="481.60" cy="123.30" r="2.4" fill="#eea797" stroke="#b06d62" stroke-width="0.5"/>
<circle cx="479.80" cy="125.22" r="2.4" fill="#eea797" stroke="#b06d62" stroke-width="0.5"/>
<circle cx="490.80" cy="113.67" r="2.4" fill="#fcefcb" stroke="#c9b98b" stroke-width="0.5"/>
<circle cx="488.60" cy="115.59" r="2.4" fill="#fcefcb" stroke="#c9b98b" stroke-width="0.5"/>
<circle cx="493.00" cy="117.04" r="2.4" fill="#fcefcb" stroke="#c9b98b" stroke-width="0.5"/>
<circle cx="488.40" cy="118.48" r="2.4" fill="#fcefcb" stroke="#c9b98b" stroke-width="0.5"/>
<circle cx="493.20" cy="120.41" r="2.4" fill="#fcefcb" stroke="#c9b98b" stroke-width="0.5"/>
<circle cx="490.80" cy="121.37" r="2.4" fill="#fcefcb" stroke="#c9b98b" stroke-width="0.5"/>
<circle cx="508.30" cy="52.03" r="2.4" fill="#6d96cb" stroke="#465f85" stroke-width="0.5"/>
<circle cx="506.70" cy="61.66" r="2.4" fill="#6d96cb" stroke="#465f85" stroke-width="0.5"/>
<circle cx="509.90" cy="63.59" r="2.4" fill="#6d96cb" stroke="#465f85" stroke-width="0.5"/>
<circle cx="506.10" cy="73.22" r="2.4" fill="#6d96cb" stroke="#465f85" stroke-width="0.5"/>
<circle cx="510.50" cy="73.22" r="2.4" fill="#6d96cb" stroke="#465f85" stroke-width="0.5"/>
<circle cx="508.30" cy="77.07" r="2.4" fill="#6d96cb" stroke="#465f85" stroke-width="0.5"/>
<circle cx="506.30" cy="80.92" r="2.4" fill="#6d96cb" stroke="#465f85" stroke-width="0.5"/>
<circle cx="510.30" cy="80.92" r="2.4" fill="#6d96cb" stroke="#465f85" stroke-width="0.5"/>
<circle cx="519.60" cy="90.07" r="2.4" fill="#eea797" stroke="#b06d62" stroke-width="0.5"/>
<circle cx="519.60" cy="96.62" r="2.4" fill="#eea797" stroke="#b06d62" stroke-width="0.5"/>
<circle cx="519.60" cy="104.23" r="2.4" fill="#eea797" stroke="#b06d62" stroke-width="0.5"/>
<circle cx="519.60" cy="112.70" r="2.4" fill="#eea797" stroke="#b06d62" stroke-width="0.5"/>
<circle cx="517.40" cy="116.65" r="2.4" fill="#eea797" stroke="#b06d62" stroke-width="0.5"/>
<circle cx="521.80" cy="116.65" r="2.4" fill="#eea797" stroke="#b06d62" stroke-width="0.5"/>
<circle cx="516.80" cy="119.73" r="2.4" fill="#eea797" stroke="#b06d62" stroke-width="0.5"/>
<circle cx="520.80" cy="119.73" r="2.4" fill="#eea797" stroke="#b06d62" stroke-width="0.5"/>
<circle cx="530.90" cy="58.78" r="2.4" fill="#fcefcb" stroke="#c9b98b" stroke-width="0.5"/>
<circle cx="529.10" cy="67.92" r="2.4" fill="#fcefcb" stroke="#c9b98b" stroke-width="0.5"/>
<circle cx="532.70" cy="67.92" r="2.4" fill="#fcefcb" stroke="#c9b98b" stroke-width="0.5"/>
<circle cx="530.90" cy="70.33" r="2.4" fill="#fcefcb" stroke="#c9b98b" stroke-width="0.5"/>
<circle cx="529.40" cy="78.03" r="2.4" fill="#fcefcb" stroke="#c9b98b" stroke-width="0.5"/>
<circle cx="532.40" cy="80.92" r="2.4" fill="#fcefcb" stroke="#c9b98b" stroke-width="0.5"/>
<circle cx="528.90" cy="83.33" r="2.4" fill="#fcefcb" stroke="#c9b98b" stroke-width="0.5"/>
<circle cx="532.90" cy="83.33" r="2.4" fill="#fcefcb" stroke="#c9b98b" stroke-width="0.5"/>
<line x1="464.40000000000003" y1="117.518" x2="472.8" y2="117.518" stroke="#2a2a2a" stroke-width="0.935"/>
<line x1="475.6" y1="118.481" x2="484.0" y2="118.481" stroke="#2a2a2a" stroke-width="0.935"/>
<line x1="486.6" y1="117.518" x2="495.0" y2="117.518" stroke="#2a2a2a" stroke-width="0.935"/>
<line x1="504.1" y1="70.8125" x2="512.5" y2="70.8125" stroke="#2a2a2a" stroke-width="0.935"/>
<line x1="515.4" y1="109.5251" x2="523.8000000000001" y2="109.5251" stroke="#2a2a2a" stroke-width="0.935"/>
<line x1="526.6999999999999" y1="74.6645" x2="535.1" y2="74.6645" stroke="#2a2a2a" stroke-width="0.935"/>
<line x1="503.0" y1="30.8" x2="533.9" y2="30.8" stroke="#b4b4b4" stroke-width="1.1"/>
<text x="517.7" y="29.5" font-size="6.6" text-anchor="middle" fill="#3a3a3a" stroke="#3a3a3a" stroke-width="0.07" textLength="19.8" lengthAdjust="spacingAndGlyphs">0.8925</text>
<line x1="512.5" y1="39.3" x2="534.0" y2="39.3" stroke="#b4b4b4" stroke-width="1.1"/>
<text x="523.3" y="38.6" font-size="6.6" text-anchor="middle" fill="#3a3a3a" stroke="#3a3a3a" stroke-width="0.07" textLength="21.6" lengthAdjust="spacingAndGlyphs">&lt;0.0001</text>
<line x1="502.0" y1="48.1" x2="521.5" y2="48.1" stroke="#b4b4b4" stroke-width="1.1"/>
<text x="513.0" y="46.9" font-size="6.6" text-anchor="middle" fill="#3a3a3a" stroke="#3a3a3a" stroke-width="0.07" textLength="22.4" lengthAdjust="spacingAndGlyphs">&lt;0.0001</text>
<text x="551.7" y="9.2" font-size="13.5" text-anchor="start" fill="#000" stroke="#000" stroke-width="0.35" font-weight="bold">e</text>
<circle cx="603.30" cy="3.60" r="2.3" fill="#6d96cb" stroke="#465f85" stroke-width="0.5"/>
<text x="609.4" y="6.2" font-size="7.2" text-anchor="start" fill="#231f20" stroke="#231f20" stroke-width="0.07" textLength="10.2" lengthAdjust="spacingAndGlyphs">WT</text>
<circle cx="638.40" cy="3.60" r="2.3" fill="#eea797" stroke="#b06d62" stroke-width="0.5"/>
<text x="644.5" y="6.2" font-size="7.2" text-anchor="start" fill="#231f20" stroke="#231f20" stroke-width="0.07">KO</text>
<circle cx="603.30" cy="14.30" r="2.3" fill="#fbefc6" stroke="#c4b48a" stroke-width="0.5"/>
<text x="609.4" y="16.900000000000002" font-size="7.2" text-anchor="start" fill="#231f20" stroke="#231f20" stroke-width="0.07">2DA</text>
<circle cx="638.40" cy="14.30" r="2.3" fill="#b1b8df" stroke="#7c84a8" stroke-width="0.5"/>
<text x="644.5" y="16.900000000000002" font-size="7.2" text-anchor="start" fill="#231f20" stroke="#231f20" stroke-width="0.07">S/T-3A</text>
<line x1="586.3" y1="34.2" x2="586.3" y2="130.9" stroke="#8a8a8a" stroke-width="0.8"/>
<line x1="583.8" y1="131.0" x2="586.3" y2="131.0" stroke="#8a8a8a" stroke-width="0.8"/>
<text x="579.6999999999999" y="133.75" font-size="7.8" text-anchor="end" fill="#231f20" stroke="#231f20" stroke-width="0.07">0</text>
<line x1="583.8" y1="111.74000000000001" x2="586.3" y2="111.74000000000001" stroke="#8a8a8a" stroke-width="0.8"/>
<text x="579.6999999999999" y="114.49000000000001" font-size="7.8" text-anchor="end" fill="#231f20" stroke="#231f20" stroke-width="0.07">20</text>
<line x1="583.8" y1="92.48" x2="586.3" y2="92.48" stroke="#8a8a8a" stroke-width="0.8"/>
<text x="579.6999999999999" y="95.23" font-size="7.8" text-anchor="end" fill="#231f20" stroke="#231f20" stroke-width="0.07">40</text>
<line x1="583.8" y1="73.22" x2="586.3" y2="73.22" stroke="#8a8a8a" stroke-width="0.8"/>
<text x="579.6999999999999" y="75.97" font-size="7.8" text-anchor="end" fill="#231f20" stroke="#231f20" stroke-width="0.07">60</text>
<line x1="583.8" y1="53.96000000000001" x2="586.3" y2="53.96000000000001" stroke="#8a8a8a" stroke-width="0.8"/>
<text x="579.6999999999999" y="56.71000000000001" font-size="7.8" text-anchor="end" fill="#231f20" stroke="#231f20" stroke-width="0.07">80</text>
<line x1="583.8" y1="34.7" x2="586.3" y2="34.7" stroke="#8a8a8a" stroke-width="0.8"/>
<text x="579.6999999999999" y="37.45" font-size="7.8" text-anchor="end" fill="#231f20" stroke="#231f20" stroke-width="0.07">100</text>
<line x1="586.3" y1="130.9" x2="684" y2="130.9" stroke="#8a8a8a" stroke-width="0.8"/>
<line x1="610.3" y1="130.9" x2="610.3" y2="133" stroke="#8a8a8a" stroke-width="0.8"/>
<line x1="659.4" y1="130.9" x2="659.4" y2="133" stroke="#8a8a8a" stroke-width="0.8"/>
<text x="609.9" y="145.8" font-size="9" text-anchor="middle" fill="#231f20" stroke="#231f20" stroke-width="0.07" textLength="29.5" lengthAdjust="spacingAndGlyphs">Vehicle</text>
<text x="658.9" y="145.8" font-size="9" text-anchor="middle" fill="#231f20" stroke="#231f20" stroke-width="0.07" textLength="17.6" lengthAdjust="spacingAndGlyphs">PMA</text>
<text x="559.9" y="82.2" font-size="8.2" text-anchor="middle" fill="#231f20" stroke="#231f20" stroke-width="0.07" transform="rotate(-90 559.9 82.2)">NETs (%)</text>
<line x1="594.2" y1="126.185" x2="594.2" y2="118.481" stroke="#2a2a2a" stroke-width="0.85"/>
<line x1="591.9000000000001" y1="118.481" x2="596.5" y2="118.481" stroke="#2a2a2a" stroke-width="0.85"/>
<line x1="591.9000000000001" y1="126.185" x2="596.5" y2="126.185" stroke="#2a2a2a" stroke-width="0.85"/>
<line x1="605.0" y1="124.7405" x2="605.0" y2="119.9255" stroke="#2a2a2a" stroke-width="0.85"/>
<line x1="602.7" y1="119.9255" x2="607.3" y2="119.9255" stroke="#2a2a2a" stroke-width="0.85"/>
<line x1="602.7" y1="124.7405" x2="607.3" y2="124.7405" stroke="#2a2a2a" stroke-width="0.85"/>
<line x1="614.9" y1="123.296" x2="614.9" y2="115.592" stroke="#2a2a2a" stroke-width="0.85"/>
<line x1="612.6" y1="115.592" x2="617.1999999999999" y2="115.592" stroke="#2a2a2a" stroke-width="0.85"/>
<line x1="612.6" y1="123.296" x2="617.1999999999999" y2="123.296" stroke="#2a2a2a" stroke-width="0.85"/>
<line x1="625.4" y1="127.148" x2="625.4" y2="119.444" stroke="#2a2a2a" stroke-width="0.85"/>
<line x1="623.1" y1="119.444" x2="627.6999999999999" y2="119.444" stroke="#2a2a2a" stroke-width="0.85"/>
<line x1="623.1" y1="127.148" x2="627.6999999999999" y2="127.148" stroke="#2a2a2a" stroke-width="0.85"/>
<line x1="643.2" y1="94.406" x2="643.2" y2="55.4045" stroke="#2a2a2a" stroke-width="0.85"/>
<line x1="640.9000000000001" y1="55.4045" x2="645.5" y2="55.4045" stroke="#2a2a2a" stroke-width="0.85"/>
<line x1="640.9000000000001" y1="94.406" x2="645.5" y2="94.406" stroke="#2a2a2a" stroke-width="0.85"/>
<line x1="654.0" y1="128.111" x2="654.0" y2="110.1029" stroke="#2a2a2a" stroke-width="0.85"/>
<line x1="651.7" y1="110.1029" x2="656.3" y2="110.1029" stroke="#2a2a2a" stroke-width="0.85"/>
<line x1="651.7" y1="128.111" x2="656.3" y2="128.111" stroke="#2a2a2a" stroke-width="0.85"/>
<line x1="663.9" y1="118.481" x2="663.9" y2="102.5915" stroke="#2a2a2a" stroke-width="0.85"/>
<line x1="661.6" y1="102.5915" x2="666.1999999999999" y2="102.5915" stroke="#2a2a2a" stroke-width="0.85"/>
<line x1="661.6" y1="118.481" x2="666.1999999999999" y2="118.481" stroke="#2a2a2a" stroke-width="0.85"/>
<line x1="674.4" y1="99.221" x2="674.4" y2="71.29400000000001" stroke="#2a2a2a" stroke-width="0.85"/>
<line x1="672.1" y1="71.29400000000001" x2="676.6999999999999" y2="71.29400000000001" stroke="#2a2a2a" stroke-width="0.85"/>
<line x1="672.1" y1="99.221" x2="676.6999999999999" y2="99.221" stroke="#2a2a2a" stroke-width="0.85"/>
<circle cx="594.20" cy="114.63" r="2.4" fill="#6d96cb" stroke="#465f85" stroke-width="0.5"/>
<circle cx="592.20" cy="119.44" r="2.4" fill="#6d96cb" stroke="#465f85" stroke-width="0.5"/>
<circle cx="596.20" cy="121.37" r="2.4" fill="#6d96cb" stroke="#465f85" stroke-width="0.5"/>
<circle cx="591.80" cy="122.33" r="2.4" fill="#6d96cb" stroke="#465f85" stroke-width="0.5"/>
<circle cx="596.60" cy="123.30" r="2.4" fill="#6d96cb" stroke="#465f85" stroke-width="0.5"/>
<circle cx="594.20" cy="125.22" r="2.4" fill="#6d96cb" stroke="#465f85" stroke-width="0.5"/>
<circle cx="592.20" cy="127.15" r="2.4" fill="#6d96cb" stroke="#465f85" stroke-width="0.5"/>
<circle cx="596.20" cy="128.11" r="2.4" fill="#6d96cb" stroke="#465f85" stroke-width="0.5"/>
<circle cx="603.00" cy="119.44" r="2.4" fill="#eea797" stroke="#b06d62" stroke-width="0.5"/>
<circle cx="607.00" cy="120.41" r="2.4" fill="#eea797" stroke="#b06d62" stroke-width="0.5"/>
<circle cx="605.00" cy="121.37" r="2.4" fill="#eea797" stroke="#b06d62" stroke-width="0.5"/>
<circle cx="602.60" cy="122.33" r="2.4" fill="#eea797" stroke="#b06d62" stroke-width="0.5"/>
<circle cx="607.40" cy="123.30" r="2.4" fill="#eea797" stroke="#b06d62" stroke-width="0.5"/>
<circle cx="603.50" cy="124.26" r="2.4" fill="#eea797" stroke="#b06d62" stroke-width="0.5"/>
<circle cx="606.50" cy="125.22" r="2.4" fill="#eea797" stroke="#b06d62" stroke-width="0.5"/>
<circle cx="614.90" cy="113.67" r="2.4" fill="#fbefc6" stroke="#c4b48a" stroke-width="0.5"/>
<circle cx="613.40" cy="115.59" r="2.4" fill="#fbefc6" stroke="#c4b48a" stroke-width="0.5"/>
<circle cx="616.40" cy="118.48" r="2.4" fill="#fbefc6" stroke="#c4b48a" stroke-width="0.5"/>
<circle cx="614.90" cy="119.44" r="2.4" fill="#fbefc6" stroke="#c4b48a" stroke-width="0.5"/>
<circle cx="612.70" cy="122.33" r="2.4" fill="#fbefc6" stroke="#c4b48a" stroke-width="0.5"/>
<circle cx="617.10" cy="123.30" r="2.4" fill="#fbefc6" stroke="#c4b48a" stroke-width="0.5"/>
<circle cx="614.90" cy="123.30" r="2.4" fill="#fbefc6" stroke="#c4b48a" stroke-width="0.5"/>
<circle cx="625.40" cy="117.52" r="2.4" fill="#b1b8df" stroke="#7c84a8" stroke-width="0.5"/>
<circle cx="623.20" cy="119.44" r="2.4" fill="#b1b8df" stroke="#7c84a8" stroke-width="0.5"/>
<circle cx="627.60" cy="121.37" r="2.4" fill="#b1b8df" stroke="#7c84a8" stroke-width="0.5"/>
<circle cx="625.40" cy="122.33" r="2.4" fill="#b1b8df" stroke="#7c84a8" stroke-width="0.5"/>
<circle cx="623.90" cy="125.22" r="2.4" fill="#b1b8df" stroke="#7c84a8" stroke-width="0.5"/>
<circle cx="626.90" cy="128.11" r="2.4" fill="#b1b8df" stroke="#7c84a8" stroke-width="0.5"/>
<circle cx="643.20" cy="58.78" r="2.4" fill="#6d96cb" stroke="#465f85" stroke-width="0.5"/>
<circle cx="643.20" cy="61.66" r="2.4" fill="#6d96cb" stroke="#465f85" stroke-width="0.5"/>
<circle cx="641.20" cy="76.11" r="2.4" fill="#6d96cb" stroke="#465f85" stroke-width="0.5"/>
<circle cx="645.20" cy="77.07" r="2.4" fill="#6d96cb" stroke="#465f85" stroke-width="0.5"/>
<circle cx="642.20" cy="78.03" r="2.4" fill="#6d96cb" stroke="#465f85" stroke-width="0.5"/>
<circle cx="644.70" cy="79.00" r="2.4" fill="#6d96cb" stroke="#465f85" stroke-width="0.5"/>
<circle cx="643.20" cy="112.70" r="2.4" fill="#6d96cb" stroke="#465f85" stroke-width="0.5"/>
<circle cx="654.00" cy="98.26" r="2.4" fill="#eea797" stroke="#b06d62" stroke-width="0.5"/>
<circle cx="654.00" cy="114.63" r="2.4" fill="#eea797" stroke="#b06d62" stroke-width="0.5"/>
<circle cx="652.00" cy="118.48" r="2.4" fill="#eea797" stroke="#b06d62" stroke-width="0.5"/>
<circle cx="656.00" cy="121.37" r="2.4" fill="#eea797" stroke="#b06d62" stroke-width="0.5"/>
<circle cx="652.00" cy="123.30" r="2.4" fill="#eea797" stroke="#b06d62" stroke-width="0.5"/>
<circle cx="656.00" cy="125.22" r="2.4" fill="#eea797" stroke="#b06d62" stroke-width="0.5"/>
<circle cx="654.00" cy="126.19" r="2.4" fill="#eea797" stroke="#b06d62" stroke-width="0.5"/>
<circle cx="655.00" cy="127.15" r="2.4" fill="#eea797" stroke="#b06d62" stroke-width="0.5"/>
<circle cx="663.90" cy="95.37" r="2.4" fill="#fbefc6" stroke="#c4b48a" stroke-width="0.5"/>
<circle cx="661.90" cy="103.07" r="2.4" fill="#fbefc6" stroke="#c4b48a" stroke-width="0.5"/>
<circle cx="665.90" cy="105.96" r="2.4" fill="#fbefc6" stroke="#c4b48a" stroke-width="0.5"/>
<circle cx="661.90" cy="107.89" r="2.4" fill="#fbefc6" stroke="#c4b48a" stroke-width="0.5"/>
<circle cx="665.90" cy="109.81" r="2.4" fill="#fbefc6" stroke="#c4b48a" stroke-width="0.5"/>
<circle cx="663.90" cy="111.74" r="2.4" fill="#fbefc6" stroke="#c4b48a" stroke-width="0.5"/>
<circle cx="661.90" cy="114.63" r="2.4" fill="#fbefc6" stroke="#c4b48a" stroke-width="0.5"/>
<circle cx="665.90" cy="118.48" r="2.4" fill="#fbefc6" stroke="#c4b48a" stroke-width="0.5"/>
<circle cx="663.90" cy="120.41" r="2.4" fill="#fbefc6" stroke="#c4b48a" stroke-width="0.5"/>
<circle cx="674.40" cy="57.33" r="2.4" fill="#b1b8df" stroke="#7c84a8" stroke-width="0.5"/>
<circle cx="674.40" cy="76.11" r="2.4" fill="#b1b8df" stroke="#7c84a8" stroke-width="0.5"/>
<circle cx="672.40" cy="81.89" r="2.4" fill="#b1b8df" stroke="#7c84a8" stroke-width="0.5"/>
<circle cx="676.40" cy="84.78" r="2.4" fill="#b1b8df" stroke="#7c84a8" stroke-width="0.5"/>
<circle cx="672.40" cy="86.70" r="2.4" fill="#b1b8df" stroke="#7c84a8" stroke-width="0.5"/>
<circle cx="676.40" cy="89.59" r="2.4" fill="#b1b8df" stroke="#7c84a8" stroke-width="0.5"/>
<circle cx="674.40" cy="91.52" r="2.4" fill="#b1b8df" stroke="#7c84a8" stroke-width="0.5"/>
<circle cx="673.40" cy="96.33" r="2.4" fill="#b1b8df" stroke="#7c84a8" stroke-width="0.5"/>
<circle cx="675.40" cy="101.15" r="2.4" fill="#b1b8df" stroke="#7c84a8" stroke-width="0.5"/>
<line x1="590.0" y1="122.333" x2="598.4000000000001" y2="122.333" stroke="#2a2a2a" stroke-width="0.935"/>
<line x1="600.8" y1="122.333" x2="609.2" y2="122.333" stroke="#2a2a2a" stroke-width="0.935"/>
<line x1="610.6999999999999" y1="119.444" x2="619.1" y2="119.444" stroke="#2a2a2a" stroke-width="0.935"/>
<line x1="621.1999999999999" y1="123.296" x2="629.6" y2="123.296" stroke="#2a2a2a" stroke-width="0.935"/>
<line x1="639.0" y1="76.10900000000001" x2="647.4000000000001" y2="76.10900000000001" stroke="#2a2a2a" stroke-width="0.935"/>
<line x1="649.8" y1="119.444" x2="658.2" y2="119.444" stroke="#2a2a2a" stroke-width="0.935"/>
<line x1="659.6999999999999" y1="110.777" x2="668.1" y2="110.777" stroke="#2a2a2a" stroke-width="0.935"/>
<line x1="670.1999999999999" y1="86.702" x2="678.6" y2="86.702" stroke="#2a2a2a" stroke-width="0.935"/>
<line x1="637.0" y1="29.0" x2="677.2" y2="29.0" stroke="#b4b4b4" stroke-width="1.1"/>
<text x="659.1" y="26.9" font-size="6.6" text-anchor="middle" fill="#3a3a3a" stroke="#3a3a3a" stroke-width="0.07" textLength="19.6" lengthAdjust="spacingAndGlyphs">0.8525</text>
<line x1="637.0" y1="37.3" x2="667.5" y2="37.3" stroke="#b4b4b4" stroke-width="1.1"/>
<text x="652.2" y="35.6" font-size="6.6" text-anchor="middle" fill="#3a3a3a" stroke="#3a3a3a" stroke-width="0.07" textLength="22.4" lengthAdjust="spacingAndGlyphs">&lt;0.0001</text>
<line x1="637.0" y1="46.3" x2="657.0" y2="46.3" stroke="#b4b4b4" stroke-width="1.1"/>
<text x="646.8" y="44.2" font-size="6.6" text-anchor="middle" fill="#3a3a3a" stroke="#3a3a3a" stroke-width="0.07" textLength="22.4" lengthAdjust="spacingAndGlyphs">&lt;0.0001</text>
<line x1="649.9" y1="53.4" x2="678.2" y2="53.4" stroke="#b4b4b4" stroke-width="1.1"/>
<text x="664.4" y="51.3" font-size="6.6" text-anchor="middle" fill="#3a3a3a" stroke="#3a3a3a" stroke-width="0.07" textLength="22.3" lengthAdjust="spacingAndGlyphs">&lt;0.0001</text>
<line x1="649.0" y1="91.0" x2="667.6" y2="91.0" stroke="#b4b4b4" stroke-width="1.1"/>
<text x="658.4" y="89.5" font-size="6.6" text-anchor="middle" fill="#3a3a3a" stroke="#3a3a3a" stroke-width="0.07" textLength="19.2" lengthAdjust="spacingAndGlyphs">0.5947</text>
<text x="-0.2" y="168.3" font-size="13.5" text-anchor="start" fill="#000" stroke="#000" stroke-width="0.35" font-weight="bold">f</text>
<text x="-0.5" y="217.2" font-size="7.2" text-anchor="start" fill="#231f20" stroke="#231f20" stroke-width="0.07">kDa</text>
<text x="38.6" y="193.2" font-size="7.3" text-anchor="end" fill="#231f20" stroke="#231f20" stroke-width="0.07" transform="rotate(-46 38.6 193.2)">XKR8 KO</text>
<text x="50.7" y="198.6" font-size="7.3" text-anchor="end" fill="#231f20" stroke="#231f20" stroke-width="0.07" transform="rotate(-46 50.7 198.6)">Vehicle</text>
<text x="57.8" y="204.6" font-size="7.3" text-anchor="end" fill="#231f20" stroke="#231f20" stroke-width="0.07" transform="rotate(-46 57.8 204.6)">PMA</text>
<text x="79.2" y="198.6" font-size="7.3" text-anchor="end" fill="#231f20" stroke="#231f20" stroke-width="0.07" transform="rotate(-46 79.2 198.6)">Vehicle</text>
<text x="86.3" y="204.6" font-size="7.3" text-anchor="end" fill="#231f20" stroke="#231f20" stroke-width="0.07" transform="rotate(-46 86.3 204.6)">PMA</text>
<text x="42.4" y="188.4" font-size="7.3" text-anchor="start" fill="#231f20" stroke="#231f20" stroke-width="0.07" transform="rotate(-46 42.4 188.4)">KO+XKR8<tspan font-size="4.6" dy="-3">FL</tspan></text>
<text x="67.0" y="188.4" font-size="7.3" text-anchor="start" fill="#231f20" stroke="#231f20" stroke-width="0.07" transform="rotate(-46 67.0 188.4)">KO+XKR8<tspan font-size="4.6" dy="-3">2DA</tspan></text>
<line x1="37.0" y1="189.2" x2="56.6" y2="189.2" stroke="#555" stroke-width="0.7"/>
<line x1="62.1" y1="189.2" x2="81.5" y2="189.2" stroke="#555" stroke-width="0.7"/>
<defs><filter id="bl" x="-20%" y="-50%" width="140%" height="200%"><feGaussianBlur stdDeviation="0.85"/></filter><filter id="bl2" x="-20%" y="-50%" width="140%" height="200%"><feGaussianBlur stdDeviation="0.45"/></filter></defs>
<rect x="14.8" y="217.8" width="69.3" height="69.0" fill="#f8f8f8" stroke="none" stroke-width="0.8"/>
<g filter="url(#bl)">
<rect x="26" y="222" width="57" height="60" fill="#f1f1f1" opacity="0.8"/>
<rect x="41.5" y="218.5" width="12.5" height="28" rx="3" fill="#e6e6e6"/>
<rect x="22" y="255" width="60" height="12" rx="5" fill="#eeeeee" opacity="0.6"/>
<rect x="27.099999999999998" y="226.4" width="11.6" height="4.4" rx="2" fill="#7c7c7c"/>
<rect x="27.099999999999998" y="235.9" width="11.6" height="3.7" rx="1.8" fill="#a2a2a2"/>
<rect x="41.800000000000004" y="226.4" width="11.6" height="4.4" rx="2" fill="#8c8c8c"/>
<rect x="41.800000000000004" y="235.9" width="11.6" height="3.7" rx="1.8" fill="#cdcdcd"/>
<rect x="56.800000000000004" y="226.4" width="11.6" height="4.4" rx="2" fill="#616161"/>
<rect x="56.800000000000004" y="235.9" width="11.6" height="3.7" rx="1.8" fill="#979797"/>
<rect x="70.2" y="226.4" width="11.6" height="4.4" rx="2" fill="#7f7f7f"/>
<rect x="70.2" y="235.9" width="11.6" height="3.7" rx="1.8" fill="#adadad"/>
<rect x="41.5" y="250.2" width="12" height="1.6" fill="#b0b0b0"/>
<rect x="41.5" y="253.8" width="12" height="1.5" fill="#c8c8c8"/>
<rect x="41.5" y="269.3" width="12" height="2.5" fill="#ababab"/>
</g>
<rect x="14.7" y="289.8" width="69.1" height="17.6" fill="#ebebeb" stroke="none" stroke-width="0.8"/>
<g filter="url(#bl2)">
<rect x="16.9" y="299.2" width="10.6" height="2.6" rx="1.2" fill="#1e1e1e"/>
<rect x="30.7" y="299.2" width="10.6" height="2.6" rx="1.2" fill="#1e1e1e"/>
<rect x="44.300000000000004" y="299.2" width="10.6" height="2.6" rx="1.2" fill="#1e1e1e"/>
<rect x="58.2" y="299.2" width="10.6" height="2.6" rx="1.2" fill="#1e1e1e"/>
<rect x="71.7" y="299.2" width="10.6" height="2.6" rx="1.2" fill="#1e1e1e"/>
</g>
<text x="9.8" y="231.6" font-size="7.2" text-anchor="end" fill="#231f20" stroke="#231f20" stroke-width="0.07">55</text>
<line x1="11.7" y1="229.3" x2="14.1" y2="229.3" stroke="#333" stroke-width="0.8"/>
<text x="9.8" y="246.9" font-size="7.2" text-anchor="end" fill="#231f20" stroke="#231f20" stroke-width="0.07">40</text>
<line x1="11.7" y1="244.60000000000002" x2="14.1" y2="244.60000000000002" stroke="#333" stroke-width="0.8"/>
<text x="9.8" y="264.3" font-size="7.2" text-anchor="end" fill="#231f20" stroke="#231f20" stroke-width="0.07">35</text>
<line x1="11.7" y1="262.0" x2="14.1" y2="262.0" stroke="#333" stroke-width="0.8"/>
<text x="9.8" y="282.20000000000005" font-size="7.2" text-anchor="end" fill="#231f20" stroke="#231f20" stroke-width="0.07">20</text>
<line x1="11.7" y1="279.90000000000003" x2="14.1" y2="279.90000000000003" stroke="#333" stroke-width="0.8"/>
<text x="9.8" y="292.6" font-size="7.2" text-anchor="end" fill="#231f20" stroke="#231f20" stroke-width="0.07">55</text>
<line x1="11.7" y1="290.3" x2="14.1" y2="290.3" stroke="#333" stroke-width="0.8"/>
<text x="9.8" y="307.90000000000003" font-size="7.2" text-anchor="end" fill="#231f20" stroke="#231f20" stroke-width="0.07">40</text>
<line x1="11.7" y1="305.6" x2="14.1" y2="305.6" stroke="#333" stroke-width="0.8"/>
<path d="M85.0,228.0 L89.2,224.6 L89.2,231.4 Z" fill="#111"/>
<path d="M85.0,270.0 L88.6,267.2 L88.6,272.8 Z" fill="none" stroke="#333" stroke-width="0.65"/>
<text x="91.3" y="225.4" font-size="7.4" text-anchor="start" fill="#231f20" stroke="#231f20" stroke-width="0.07">XKR8</text>
<text x="91.0" y="234.3" font-size="7.4" text-anchor="start" fill="#231f20" stroke="#231f20" stroke-width="0.07">–GFP</text>
<text x="91.0" y="266.9" font-size="7.7" text-anchor="start" fill="#231f20" stroke="#231f20" stroke-width="0.07">Cleaved</text>
<text x="91.0" y="275.3" font-size="7.7" text-anchor="start" fill="#231f20" stroke="#231f20" stroke-width="0.07">product</text>
<text x="86.6" y="286.8" font-size="7.6" text-anchor="start" fill="#231f20" stroke="#231f20" stroke-width="0.07" textLength="23.4" lengthAdjust="spacingAndGlyphs">IB: GFP</text>
<text x="86.5" y="301.3" font-size="7.4" text-anchor="start" fill="#231f20" stroke="#231f20" stroke-width="0.07">IB: β-actin</text>
<text x="127.3" y="168.0" font-size="13.5" text-anchor="start" fill="#000" stroke="#000" stroke-width="0.35" font-weight="bold">g</text>
<circle cx="177.50" cy="172.00" r="2.3" fill="#6d96cb" stroke="#465f85" stroke-width="0.5"/>
<text x="183.6" y="174.6" font-size="7.2" text-anchor="start" fill="#231f20" stroke="#231f20" stroke-width="0.07" textLength="10.2" lengthAdjust="spacingAndGlyphs">WT</text>
<circle cx="218.80" cy="172.00" r="2.3" fill="#eea797" stroke="#b06d62" stroke-width="0.5"/>
<text x="224.9" y="174.6" font-size="7.2" text-anchor="start" fill="#231f20" stroke="#231f20" stroke-width="0.07">KO</text>
<circle cx="177.50" cy="182.00" r="2.3" fill="#c3c6d0" stroke="#8d909c" stroke-width="0.5"/>
<text x="183.6" y="184.6" font-size="7.2" text-anchor="start" fill="#231f20" stroke="#231f20" stroke-width="0.07">D30A</text>
<circle cx="218.80" cy="182.00" r="2.3" fill="#d6ebf6" stroke="#8fb3c9" stroke-width="0.5"/>
<text x="224.9" y="184.6" font-size="7.2" text-anchor="start" fill="#231f20" stroke="#231f20" stroke-width="0.07">W45A</text>
<line x1="161.5" y1="197.3" x2="161.5" y2="293.1" stroke="#8a8a8a" stroke-width="0.8"/>
<line x1="159.0" y1="293.1" x2="161.5" y2="293.1" stroke="#8a8a8a" stroke-width="0.8"/>
<text x="154.9" y="295.85" font-size="7.8" text-anchor="end" fill="#231f20" stroke="#231f20" stroke-width="0.07">0</text>
<line x1="159.0" y1="273.94" x2="161.5" y2="273.94" stroke="#8a8a8a" stroke-width="0.8"/>
<text x="154.9" y="276.69" font-size="7.8" text-anchor="end" fill="#231f20" stroke="#231f20" stroke-width="0.07">20</text>
<line x1="159.0" y1="254.78000000000003" x2="161.5" y2="254.78000000000003" stroke="#8a8a8a" stroke-width="0.8"/>
<text x="154.9" y="257.53000000000003" font-size="7.8" text-anchor="end" fill="#231f20" stroke="#231f20" stroke-width="0.07">40</text>
<line x1="159.0" y1="235.62000000000003" x2="161.5" y2="235.62000000000003" stroke="#8a8a8a" stroke-width="0.8"/>
<text x="154.9" y="238.37000000000003" font-size="7.8" text-anchor="end" fill="#231f20" stroke="#231f20" stroke-width="0.07">60</text>
<line x1="159.0" y1="216.46000000000004" x2="161.5" y2="216.46000000000004" stroke="#8a8a8a" stroke-width="0.8"/>
<text x="154.9" y="219.21000000000004" font-size="7.8" text-anchor="end" fill="#231f20" stroke="#231f20" stroke-width="0.07">80</text>
<line x1="159.0" y1="197.3" x2="161.5" y2="197.3" stroke="#8a8a8a" stroke-width="0.8"/>
<text x="154.9" y="200.05" font-size="7.8" text-anchor="end" fill="#231f20" stroke="#231f20" stroke-width="0.07">100</text>
<line x1="161.5" y1="293.1" x2="258" y2="293.1" stroke="#8a8a8a" stroke-width="0.8"/>
<line x1="185.2" y1="293.1" x2="185.2" y2="295.2" stroke="#8a8a8a" stroke-width="0.8"/>
<line x1="234.6" y1="293.1" x2="234.6" y2="295.2" stroke="#8a8a8a" stroke-width="0.8"/>
<text x="185.2" y="307.2" font-size="9" text-anchor="middle" fill="#231f20" stroke="#231f20" stroke-width="0.07" textLength="29.5" lengthAdjust="spacingAndGlyphs">Vehicle</text>
<text x="234.6" y="307.2" font-size="9" text-anchor="middle" fill="#231f20" stroke="#231f20" stroke-width="0.07" textLength="17.6" lengthAdjust="spacingAndGlyphs">PMA</text>
<text x="135.2" y="245.0" font-size="8.2" text-anchor="middle" fill="#231f20" stroke="#231f20" stroke-width="0.07" transform="rotate(-90 135.2 245.0)">NETs (%)</text>
<line x1="169.3" y1="293.1" x2="169.3" y2="288.78900000000004" stroke="#9a9a9a" stroke-width="0.5"/>
<line x1="167.0" y1="288.78900000000004" x2="171.60000000000002" y2="288.78900000000004" stroke="#9a9a9a" stroke-width="0.5"/>
<line x1="167.0" y1="293.1" x2="171.60000000000002" y2="293.1" stroke="#9a9a9a" stroke-width="0.5"/>
<line x1="179.7" y1="293.1" x2="179.7" y2="288.78900000000004" stroke="#9a9a9a" stroke-width="0.5"/>
<line x1="177.39999999999998" y1="288.78900000000004" x2="182.0" y2="288.78900000000004" stroke="#9a9a9a" stroke-width="0.5"/>
<line x1="177.39999999999998" y1="293.1" x2="182.0" y2="293.1" stroke="#9a9a9a" stroke-width="0.5"/>
<line x1="190.4" y1="293.1" x2="190.4" y2="285.43600000000004" stroke="#9a9a9a" stroke-width="0.5"/>
<line x1="188.1" y1="285.43600000000004" x2="192.70000000000002" y2="285.43600000000004" stroke="#9a9a9a" stroke-width="0.5"/>
<line x1="188.1" y1="293.1" x2="192.70000000000002" y2="293.1" stroke="#9a9a9a" stroke-width="0.5"/>
<line x1="201.4" y1="293.1" x2="201.4" y2="285.43600000000004" stroke="#9a9a9a" stroke-width="0.5"/>
<line x1="199.1" y1="285.43600000000004" x2="203.70000000000002" y2="285.43600000000004" stroke="#9a9a9a" stroke-width="0.5"/>
<line x1="199.1" y1="293.1" x2="203.70000000000002" y2="293.1" stroke="#9a9a9a" stroke-width="0.5"/>
<line x1="218.8" y1="261.48600000000005" x2="218.8" y2="241.36800000000002" stroke="#3a3a3a" stroke-width="0.7"/>
<line x1="216.5" y1="241.36800000000002" x2="221.10000000000002" y2="241.36800000000002" stroke="#3a3a3a" stroke-width="0.7"/>
<line x1="216.5" y1="261.48600000000005" x2="221.10000000000002" y2="261.48600000000005" stroke="#3a3a3a" stroke-width="0.7"/>
<line x1="229.2" y1="291.184" x2="229.2" y2="271.06600000000003" stroke="#3a3a3a" stroke-width="0.7"/>
<line x1="226.89999999999998" y1="271.06600000000003" x2="231.5" y2="271.06600000000003" stroke="#3a3a3a" stroke-width="0.7"/>
<line x1="226.89999999999998" y1="291.184" x2="231.5" y2="291.184" stroke="#3a3a3a" stroke-width="0.7"/>
<line x1="240.1" y1="293.1" x2="240.1" y2="272.024" stroke="#3a3a3a" stroke-width="0.7"/>
<line x1="237.79999999999998" y1="272.024" x2="242.4" y2="272.024" stroke="#3a3a3a" stroke-width="0.7"/>
<line x1="237.79999999999998" y1="293.1" x2="242.4" y2="293.1" stroke="#3a3a3a" stroke-width="0.7"/>
<line x1="250.4" y1="249.03200000000004" x2="250.4" y2="227.95600000000002" stroke="#3a3a3a" stroke-width="0.7"/>
<line x1="248.1" y1="227.95600000000002" x2="252.70000000000002" y2="227.95600000000002" stroke="#3a3a3a" stroke-width="0.7"/>
<line x1="248.1" y1="249.03200000000004" x2="252.70000000000002" y2="249.03200000000004" stroke="#3a3a3a" stroke-width="0.7"/>
<circle cx="169.30" cy="287.35" r="2.4" fill="#6d96cb" stroke="#465f85" stroke-width="0.5"/>
<circle cx="167.30" cy="290.23" r="2.4" fill="#6d96cb" stroke="#465f85" stroke-width="0.5"/>
<circle cx="171.30" cy="291.18" r="2.4" fill="#6d96cb" stroke="#465f85" stroke-width="0.5"/>
<circle cx="167.10" cy="292.14" r="2.4" fill="#6d96cb" stroke="#465f85" stroke-width="0.5"/>
<circle cx="171.50" cy="292.62" r="2.4" fill="#6d96cb" stroke="#465f85" stroke-width="0.5"/>
<circle cx="169.30" cy="293.10" r="2.4" fill="#6d96cb" stroke="#465f85" stroke-width="0.5"/>
<circle cx="180.70" cy="287.35" r="2.4" fill="#eea797" stroke="#b06d62" stroke-width="0.5"/>
<circle cx="178.20" cy="289.27" r="2.4" fill="#eea797" stroke="#b06d62" stroke-width="0.5"/>
<circle cx="181.70" cy="291.18" r="2.4" fill="#eea797" stroke="#b06d62" stroke-width="0.5"/>
<circle cx="177.50" cy="292.14" r="2.4" fill="#eea797" stroke="#b06d62" stroke-width="0.5"/>
<circle cx="181.90" cy="292.62" r="2.4" fill="#eea797" stroke="#b06d62" stroke-width="0.5"/>
<circle cx="179.70" cy="293.10" r="2.4" fill="#eea797" stroke="#b06d62" stroke-width="0.5"/>
<circle cx="190.40" cy="283.52" r="2.4" fill="#c3c6d0" stroke="#8d909c" stroke-width="0.5"/>
<circle cx="188.40" cy="287.35" r="2.4" fill="#c3c6d0" stroke="#8d909c" stroke-width="0.5"/>
<circle cx="192.40" cy="289.27" r="2.4" fill="#c3c6d0" stroke="#8d909c" stroke-width="0.5"/>
<circle cx="188.40" cy="291.18" r="2.4" fill="#c3c6d0" stroke="#8d909c" stroke-width="0.5"/>
<circle cx="192.40" cy="292.14" r="2.4" fill="#c3c6d0" stroke="#8d909c" stroke-width="0.5"/>
<circle cx="188.90" cy="293.10" r="2.4" fill="#c3c6d0" stroke="#8d909c" stroke-width="0.5"/>
<circle cx="191.90" cy="293.10" r="2.4" fill="#c3c6d0" stroke="#8d909c" stroke-width="0.5"/>
<circle cx="201.40" cy="284.48" r="2.4" fill="#d6ebf6" stroke="#8fb3c9" stroke-width="0.5"/>
<circle cx="199.40" cy="286.39" r="2.4" fill="#d6ebf6" stroke="#8fb3c9" stroke-width="0.5"/>
<circle cx="203.40" cy="288.31" r="2.4" fill="#d6ebf6" stroke="#8fb3c9" stroke-width="0.5"/>
<circle cx="199.40" cy="290.23" r="2.4" fill="#d6ebf6" stroke="#8fb3c9" stroke-width="0.5"/>
<circle cx="203.40" cy="292.14" r="2.4" fill="#d6ebf6" stroke="#8fb3c9" stroke-width="0.5"/>
<circle cx="201.40" cy="293.10" r="2.4" fill="#d6ebf6" stroke="#8fb3c9" stroke-width="0.5"/>
<circle cx="218.80" cy="228.91" r="2.4" fill="#6d96cb" stroke="#465f85" stroke-width="0.5"/>
<circle cx="216.80" cy="249.03" r="2.4" fill="#6d96cb" stroke="#465f85" stroke-width="0.5"/>
<circle cx="220.80" cy="250.95" r="2.4" fill="#6d96cb" stroke="#465f85" stroke-width="0.5"/>
<circle cx="216.80" cy="252.86" r="2.4" fill="#6d96cb" stroke="#465f85" stroke-width="0.5"/>
<circle cx="220.80" cy="253.82" r="2.4" fill="#6d96cb" stroke="#465f85" stroke-width="0.5"/>
<circle cx="218.80" cy="254.78" r="2.4" fill="#6d96cb" stroke="#465f85" stroke-width="0.5"/>
<circle cx="217.80" cy="258.61" r="2.4" fill="#6d96cb" stroke="#465f85" stroke-width="0.5"/>
<circle cx="219.80" cy="261.49" r="2.4" fill="#6d96cb" stroke="#465f85" stroke-width="0.5"/>
<circle cx="218.80" cy="264.36" r="2.4" fill="#6d96cb" stroke="#465f85" stroke-width="0.5"/>
<circle cx="227.70" cy="271.07" r="2.4" fill="#eea797" stroke="#b06d62" stroke-width="0.5"/>
<circle cx="230.70" cy="272.02" r="2.4" fill="#eea797" stroke="#b06d62" stroke-width="0.5"/>
<circle cx="229.20" cy="276.81" r="2.4" fill="#eea797" stroke="#b06d62" stroke-width="0.5"/>
<circle cx="230.20" cy="278.73" r="2.4" fill="#eea797" stroke="#b06d62" stroke-width="0.5"/>
<circle cx="228.20" cy="282.56" r="2.4" fill="#eea797" stroke="#b06d62" stroke-width="0.5"/>
<circle cx="229.20" cy="291.18" r="2.4" fill="#eea797" stroke="#b06d62" stroke-width="0.5"/>
<circle cx="229.20" cy="292.14" r="2.4" fill="#eea797" stroke="#b06d62" stroke-width="0.5"/>
<circle cx="240.10" cy="261.49" r="2.4" fill="#c3c6d0" stroke="#8d909c" stroke-width="0.5"/>
<circle cx="240.10" cy="272.02" r="2.4" fill="#c3c6d0" stroke="#8d909c" stroke-width="0.5"/>
<circle cx="238.10" cy="281.60" r="2.4" fill="#c3c6d0" stroke="#8d909c" stroke-width="0.5"/>
<circle cx="242.10" cy="283.52" r="2.4" fill="#c3c6d0" stroke="#8d909c" stroke-width="0.5"/>
<circle cx="240.10" cy="285.44" r="2.4" fill="#c3c6d0" stroke="#8d909c" stroke-width="0.5"/>
<circle cx="238.10" cy="292.14" r="2.4" fill="#c3c6d0" stroke="#8d909c" stroke-width="0.5"/>
<circle cx="242.10" cy="293.10" r="2.4" fill="#c3c6d0" stroke="#8d909c" stroke-width="0.5"/>
<circle cx="240.10" cy="293.10" r="2.4" fill="#c3c6d0" stroke="#8d909c" stroke-width="0.5"/>
<circle cx="251.40" cy="220.29" r="2.4" fill="#d6ebf6" stroke="#8fb3c9" stroke-width="0.5"/>
<circle cx="249.40" cy="222.21" r="2.4" fill="#d6ebf6" stroke="#8fb3c9" stroke-width="0.5"/>
<circle cx="252.40" cy="226.04" r="2.4" fill="#d6ebf6" stroke="#8fb3c9" stroke-width="0.5"/>
<circle cx="248.40" cy="229.87" r="2.4" fill="#d6ebf6" stroke="#8fb3c9" stroke-width="0.5"/>
<circle cx="250.40" cy="235.62" r="2.4" fill="#d6ebf6" stroke="#8fb3c9" stroke-width="0.5"/>
<circle cx="252.40" cy="239.45" r="2.4" fill="#d6ebf6" stroke="#8fb3c9" stroke-width="0.5"/>
<circle cx="248.40" cy="245.20" r="2.4" fill="#d6ebf6" stroke="#8fb3c9" stroke-width="0.5"/>
<circle cx="251.40" cy="250.95" r="2.4" fill="#d6ebf6" stroke="#8fb3c9" stroke-width="0.5"/>
<circle cx="249.40" cy="255.74" r="2.4" fill="#d6ebf6" stroke="#8fb3c9" stroke-width="0.5"/>
<line x1="165.10000000000002" y1="291.184" x2="173.5" y2="291.184" stroke="#9a9a9a" stroke-width="0.55"/>
<line x1="175.5" y1="291.184" x2="183.89999999999998" y2="291.184" stroke="#9a9a9a" stroke-width="0.55"/>
<line x1="186.20000000000002" y1="289.26800000000003" x2="194.6" y2="289.26800000000003" stroke="#9a9a9a" stroke-width="0.55"/>
<line x1="197.20000000000002" y1="289.26800000000003" x2="205.6" y2="289.26800000000003" stroke="#9a9a9a" stroke-width="0.55"/>
<line x1="214.60000000000002" y1="251.90600000000003" x2="223.0" y2="251.90600000000003" stroke="#3a3a3a" stroke-width="0.77"/>
<line x1="225.0" y1="278.73" x2="233.39999999999998" y2="278.73" stroke="#3a3a3a" stroke-width="0.77"/>
<line x1="235.9" y1="285.43600000000004" x2="244.29999999999998" y2="285.43600000000004" stroke="#3a3a3a" stroke-width="0.77"/>
<line x1="246.20000000000002" y1="237.53600000000003" x2="254.6" y2="237.53600000000003" stroke="#3a3a3a" stroke-width="0.77"/>
<line x1="213.0" y1="198.0" x2="254.4" y2="198.0" stroke="#b4b4b4" stroke-width="1.1"/>
<text x="233.4" y="196.1" font-size="6.6" text-anchor="middle" fill="#3a3a3a" stroke="#3a3a3a" stroke-width="0.07" textLength="18.8" lengthAdjust="spacingAndGlyphs">0.0134</text>
<line x1="213.0" y1="207.4" x2="243.7" y2="207.4" stroke="#b4b4b4" stroke-width="1.1"/>
<text x="227.4" y="205.5" font-size="6.6" text-anchor="middle" fill="#3a3a3a" stroke="#3a3a3a" stroke-width="0.07" textLength="22.4" lengthAdjust="spacingAndGlyphs">&lt;0.0001</text>
<line x1="226.2" y1="216.2" x2="254.4" y2="216.2" stroke="#b4b4b4" stroke-width="1.1"/>
<text x="240.3" y="214.6" font-size="6.6" text-anchor="middle" fill="#3a3a3a" stroke="#3a3a3a" stroke-width="0.07" textLength="23.0" lengthAdjust="spacingAndGlyphs">&lt;0.0001</text>
<line x1="213.6" y1="224.3" x2="233.7" y2="224.3" stroke="#b4b4b4" stroke-width="1.1"/>
<text x="224.9" y="222.5" font-size="6.6" text-anchor="middle" fill="#3a3a3a" stroke="#3a3a3a" stroke-width="0.07" textLength="22.6" lengthAdjust="spacingAndGlyphs">&lt;0.0001</text>
<line x1="225.3" y1="257.5" x2="244.2" y2="257.5" stroke="#b4b4b4" stroke-width="1.1"/>
<text x="235.1" y="255.7" font-size="6.6" text-anchor="middle" fill="#3a3a3a" stroke="#3a3a3a" stroke-width="0.07" textLength="19.9" lengthAdjust="spacingAndGlyphs">0.9998</text>
<text x="267.3" y="168.3" font-size="13.5" text-anchor="start" fill="#000" stroke="#000" stroke-width="0.35" font-weight="bold">h</text>
<text x="356.5" y="182.0" font-size="8.4" text-anchor="middle" fill="#231f20" stroke="#231f20" stroke-width="0.07">PMA</text>
<line x1="303" y1="185.5" x2="407" y2="185.5" stroke="#444" stroke-width="0.7"/>
<text x="327.6" y="191.3" font-size="7.2" text-anchor="middle" fill="#231f20" stroke="#231f20" stroke-width="0.07">–</text>
<text x="377.5" y="191.6" font-size="7.2" text-anchor="middle" fill="#231f20" stroke="#231f20" stroke-width="0.07">+</text>
<defs><filter id="fb" x="-50%" y="-50%" width="200%" height="200%"><feGaussianBlur stdDeviation="0.55"/></filter></defs>
<circle cx="314.8" cy="228.0" r="0.42" fill="#a9c1e2" opacity="0.8"/>
<circle cx="315.0" cy="224.7" r="0.42" fill="#a9c1e2" opacity="0.8"/>
<circle cx="311.8" cy="225.1" r="0.42" fill="#a9c1e2" opacity="0.8"/>
<circle cx="321.0" cy="227.7" r="0.42" fill="#a9c1e2" opacity="0.8"/>
<circle cx="320.7" cy="227.0" r="0.42" fill="#a9c1e2" opacity="0.8"/>
<circle cx="317.8" cy="226.7" r="0.42" fill="#a9c1e2" opacity="0.8"/>
<circle cx="308.5" cy="229.4" r="0.42" fill="#a9c1e2" opacity="0.8"/>
<circle cx="318.3" cy="228.0" r="0.42" fill="#a9c1e2" opacity="0.8"/>
<circle cx="308.4" cy="219.0" r="0.42" fill="#a9c1e2" opacity="0.8"/>
<circle cx="312.0" cy="224.1" r="0.42" fill="#a9c1e2" opacity="0.8"/>
<circle cx="317.4" cy="225.8" r="0.42" fill="#a9c1e2" opacity="0.8"/>
<circle cx="318.3" cy="223.4" r="0.42" fill="#a9c1e2" opacity="0.8"/>
<circle cx="317.4" cy="227.6" r="0.42" fill="#a9c1e2" opacity="0.8"/>
<circle cx="313.0" cy="232.9" r="0.42" fill="#a9c1e2" opacity="0.8"/>
<circle cx="318.5" cy="230.8" r="0.42" fill="#a9c1e2" opacity="0.8"/>
<circle cx="313.2" cy="223.0" r="0.42" fill="#a9c1e2" opacity="0.8"/>
<circle cx="314.5" cy="225.6" r="0.42" fill="#a9c1e2" opacity="0.8"/>
<circle cx="318.8" cy="227.0" r="0.42" fill="#a9c1e2" opacity="0.8"/>
<circle cx="314.0" cy="222.2" r="0.42" fill="#a9c1e2" opacity="0.8"/>
<circle cx="313.7" cy="230.9" r="0.42" fill="#a9c1e2" opacity="0.8"/>
<circle cx="312.4" cy="227.0" r="0.42" fill="#a9c1e2" opacity="0.8"/>
<circle cx="317.9" cy="220.0" r="0.42" fill="#a9c1e2" opacity="0.8"/>
<circle cx="316.2" cy="231.2" r="0.42" fill="#a9c1e2" opacity="0.8"/>
<circle cx="306.9" cy="224.7" r="0.42" fill="#a9c1e2" opacity="0.8"/>
<circle cx="315.5" cy="222.7" r="0.42" fill="#a9c1e2" opacity="0.8"/>
<g filter="url(#fb)"><ellipse cx="311.0" cy="233.2" rx="3.7" ry="4.3" fill="#7098cc"/><path d="M312,230 L316.5,228.5 L317,231 L313.5,234 Z" fill="#8aaad6"/></g>
<circle cx="383.5" cy="215.8" r="0.42" fill="#9db8de" opacity="0.8"/>
<circle cx="377.6" cy="218.9" r="0.42" fill="#9db8de" opacity="0.8"/>
<circle cx="384.0" cy="219.3" r="0.42" fill="#9db8de" opacity="0.8"/>
<circle cx="386.3" cy="217.3" r="0.42" fill="#9db8de" opacity="0.8"/>
<circle cx="382.4" cy="211.5" r="0.42" fill="#9db8de" opacity="0.8"/>
<circle cx="383.8" cy="213.9" r="0.42" fill="#9db8de" opacity="0.8"/>
<circle cx="380.6" cy="211.6" r="0.42" fill="#9db8de" opacity="0.8"/>
<circle cx="379.1" cy="214.1" r="0.42" fill="#9db8de" opacity="0.8"/>
<circle cx="385.9" cy="208.9" r="0.42" fill="#9db8de" opacity="0.8"/>
<circle cx="377.6" cy="216.8" r="0.42" fill="#9db8de" opacity="0.8"/>
<circle cx="386.3" cy="218.0" r="0.42" fill="#9db8de" opacity="0.8"/>
<circle cx="376.3" cy="207.2" r="0.42" fill="#9db8de" opacity="0.8"/>
<circle cx="383.1" cy="213.4" r="0.42" fill="#9db8de" opacity="0.8"/>
<circle cx="378.6" cy="219.4" r="0.42" fill="#9db8de" opacity="0.8"/>
<circle cx="385.3" cy="216.6" r="0.42" fill="#9db8de" opacity="0.8"/>
<circle cx="382.7" cy="217.5" r="0.42" fill="#9db8de" opacity="0.8"/>
<circle cx="386.8" cy="218.2" r="0.42" fill="#9db8de" opacity="0.8"/>
<circle cx="383.6" cy="217.9" r="0.42" fill="#9db8de" opacity="0.8"/>
<circle cx="377.3" cy="220.5" r="0.42" fill="#9db8de" opacity="0.8"/>
<circle cx="384.9" cy="217.9" r="0.42" fill="#9db8de" opacity="0.8"/>
<circle cx="376.1" cy="213.8" r="0.42" fill="#9db8de" opacity="0.8"/>
<circle cx="384.5" cy="209.7" r="0.42" fill="#9db8de" opacity="0.8"/>
<circle cx="381.4" cy="219.6" r="0.42" fill="#9db8de" opacity="0.8"/>
<circle cx="378.1" cy="221.6" r="0.42" fill="#9db8de" opacity="0.8"/>
<circle cx="383.7" cy="215.5" r="0.42" fill="#9db8de" opacity="0.8"/>
<circle cx="383.0" cy="218.3" r="0.42" fill="#9db8de" opacity="0.8"/>
<circle cx="382.4" cy="220.0" r="0.42" fill="#9db8de" opacity="0.8"/>
<circle cx="380.0" cy="214.5" r="0.42" fill="#9db8de" opacity="0.8"/>
<circle cx="385.1" cy="216.1" r="0.42" fill="#9db8de" opacity="0.8"/>
<circle cx="379.4" cy="219.3" r="0.42" fill="#9db8de" opacity="0.8"/>
<g filter="url(#fb)" transform="translate(0,-1.2)"><path d="M366.5,239 L372,239.5 L377,238.5 L380.5,236 L382.5,231 L384.5,225 L386.3,219 L386.5,214 L384.5,212 L381.5,213.5 L379.5,218 L377.5,223 L375,228 L371.5,231 L367.5,232 Z" fill="#8eb0dc" stroke="#5f88bf" stroke-width="0.6"/><ellipse cx="365.4" cy="233.6" rx="5.6" ry="4.3" transform="rotate(-18 365.4 233.6)" fill="#7399cd"/><path d="M369,236.5 C373,236.5 377,235 379,231 C381,226 382.5,220 384,215" stroke="#d2e0f2" stroke-width="0.7" fill="none"/><path d="M370,234 C373.5,233.5 376,231 377.5,227 C379,223 380.5,219 382,216" stroke="#b9cdea" stroke-width="0.6" fill="none"/></g>
<circle cx="322.6" cy="279.4" r="0.42" fill="#ee9f92" opacity="0.8"/>
<circle cx="311.8" cy="280.5" r="0.42" fill="#ee9f92" opacity="0.8"/>
<circle cx="316.4" cy="280.0" r="0.42" fill="#ee9f92" opacity="0.8"/>
<circle cx="322.3" cy="277.4" r="0.42" fill="#ee9f92" opacity="0.8"/>
<circle cx="321.8" cy="276.6" r="0.42" fill="#ee9f92" opacity="0.8"/>
<circle cx="314.0" cy="283.2" r="0.42" fill="#ee9f92" opacity="0.8"/>
<circle cx="321.3" cy="284.0" r="0.42" fill="#ee9f92" opacity="0.8"/>
<circle cx="318.3" cy="281.5" r="0.42" fill="#ee9f92" opacity="0.8"/>
<circle cx="317.6" cy="283.0" r="0.42" fill="#ee9f92" opacity="0.8"/>
<circle cx="316.3" cy="282.0" r="0.42" fill="#ee9f92" opacity="0.8"/>
<circle cx="319.2" cy="281.0" r="0.42" fill="#ee9f92" opacity="0.8"/>
<circle cx="319.9" cy="283.0" r="0.42" fill="#ee9f92" opacity="0.8"/>
<circle cx="324.6" cy="282.1" r="0.42" fill="#ee9f92" opacity="0.8"/>
<circle cx="315.4" cy="279.7" r="0.42" fill="#ee9f92" opacity="0.8"/>
<circle cx="317.0" cy="284.2" r="0.42" fill="#ee9f92" opacity="0.8"/>
<circle cx="315.7" cy="282.4" r="0.42" fill="#ee9f92" opacity="0.8"/>
<circle cx="324.0" cy="272.0" r="0.42" fill="#ee9f92" opacity="0.8"/>
<circle cx="312.7" cy="281.9" r="0.42" fill="#ee9f92" opacity="0.8"/>
<circle cx="318.5" cy="281.8" r="0.42" fill="#ee9f92" opacity="0.8"/>
<circle cx="315.4" cy="283.3" r="0.42" fill="#ee9f92" opacity="0.8"/>
<circle cx="318.1" cy="279.2" r="0.42" fill="#ee9f92" opacity="0.8"/>
<circle cx="326.2" cy="282.2" r="0.42" fill="#ee9f92" opacity="0.8"/>
<circle cx="314.9" cy="280.7" r="0.42" fill="#ee9f92" opacity="0.8"/>
<circle cx="316.1" cy="280.8" r="0.42" fill="#ee9f92" opacity="0.8"/>
<circle cx="306.6" cy="279.3" r="0.42" fill="#ee9f92" opacity="0.8"/>
<circle cx="320.8" cy="276.9" r="0.42" fill="#ee9f92" opacity="0.8"/>
<circle cx="316.7" cy="284.3" r="0.42" fill="#ee9f92" opacity="0.8"/>
<circle cx="320.3" cy="286.2" r="0.42" fill="#ee9f92" opacity="0.8"/>
<circle cx="310.5" cy="279.8" r="0.42" fill="#ee9f92" opacity="0.8"/>
<circle cx="315.7" cy="283.2" r="0.42" fill="#ee9f92" opacity="0.8"/>
<g filter="url(#fb)"><ellipse cx="310.8" cy="287.4" rx="4.0" ry="3.8" fill="#e89b8c"/><ellipse cx="313.8" cy="285.0" rx="2.2" ry="1.8" fill="#eea99b"/></g>
<path d="M367,291 L374,291 L379,289.5 L382,286 L384,280 L386,274 L387.5,268.5 L385.5,267 L383,270 L381,276 L378.5,281 L374.5,284 L369,284.5 Z" fill="#f4c3b9" opacity="0.85" filter="url(#fb)"/>
<path d="M369,289 C374,289 378,287 380,283 C382,279 384,274 386,269" stroke="#e48f80" stroke-width="0.5" fill="none" opacity="0.8"/>
<circle cx="386.7" cy="269.9" r="0.42" fill="#e8968a" opacity="0.85"/>
<circle cx="384.4" cy="267.7" r="0.42" fill="#e8968a" opacity="0.85"/>
<circle cx="371.8" cy="279.8" r="0.42" fill="#e8968a" opacity="0.85"/>
<circle cx="370.5" cy="284.7" r="0.42" fill="#e8968a" opacity="0.85"/>
<circle cx="372.5" cy="275.2" r="0.42" fill="#e8968a" opacity="0.85"/>
<circle cx="382.4" cy="274.0" r="0.42" fill="#e8968a" opacity="0.85"/>
<circle cx="384.5" cy="269.1" r="0.42" fill="#e8968a" opacity="0.85"/>
<circle cx="373.9" cy="281.2" r="0.42" fill="#e8968a" opacity="0.85"/>
<circle cx="383.1" cy="271.1" r="0.42" fill="#e8968a" opacity="0.85"/>
<circle cx="376.1" cy="272.9" r="0.42" fill="#e8968a" opacity="0.85"/>
<circle cx="368.4" cy="279.7" r="0.42" fill="#e8968a" opacity="0.85"/>
<circle cx="382.8" cy="268.7" r="0.42" fill="#e8968a" opacity="0.85"/>
<circle cx="372.9" cy="279.4" r="0.42" fill="#e8968a" opacity="0.85"/>
<circle cx="384.8" cy="270.1" r="0.42" fill="#e8968a" opacity="0.85"/>
<circle cx="379.4" cy="275.9" r="0.42" fill="#e8968a" opacity="0.85"/>
<circle cx="373.1" cy="281.9" r="0.42" fill="#e8968a" opacity="0.85"/>
<circle cx="385.0" cy="267.9" r="0.42" fill="#e8968a" opacity="0.85"/>
<circle cx="386.1" cy="269.7" r="0.42" fill="#e8968a" opacity="0.85"/>
<circle cx="374.9" cy="277.4" r="0.42" fill="#e8968a" opacity="0.85"/>
<circle cx="371.2" cy="284.4" r="0.42" fill="#e8968a" opacity="0.85"/>
<circle cx="380.5" cy="273.9" r="0.42" fill="#e8968a" opacity="0.85"/>
<circle cx="384.7" cy="268.3" r="0.42" fill="#e8968a" opacity="0.85"/>
<circle cx="373.6" cy="280.8" r="0.42" fill="#e8968a" opacity="0.85"/>
<circle cx="379.6" cy="275.6" r="0.42" fill="#e8968a" opacity="0.85"/>
<circle cx="373.0" cy="281.1" r="0.42" fill="#e8968a" opacity="0.85"/>
<circle cx="374.3" cy="273.9" r="0.42" fill="#e8968a" opacity="0.85"/>
<circle cx="378.8" cy="275.4" r="0.42" fill="#e8968a" opacity="0.85"/>
<circle cx="378.5" cy="274.6" r="0.42" fill="#e8968a" opacity="0.85"/>
<circle cx="377.4" cy="276.3" r="0.42" fill="#e8968a" opacity="0.85"/>
<circle cx="384.0" cy="272.3" r="0.42" fill="#e8968a" opacity="0.85"/>
<circle cx="380.4" cy="271.0" r="0.42" fill="#e8968a" opacity="0.85"/>
<circle cx="375.7" cy="273.8" r="0.42" fill="#e8968a" opacity="0.85"/>
<circle cx="369.7" cy="282.0" r="0.42" fill="#e8968a" opacity="0.85"/>
<circle cx="374.7" cy="276.9" r="0.42" fill="#e8968a" opacity="0.85"/>
<circle cx="379.6" cy="270.2" r="0.42" fill="#e8968a" opacity="0.85"/>
<circle cx="375.8" cy="274.7" r="0.42" fill="#e8968a" opacity="0.85"/>
<circle cx="377.8" cy="273.1" r="0.42" fill="#e8968a" opacity="0.85"/>
<circle cx="374.6" cy="275.2" r="0.42" fill="#e8968a" opacity="0.85"/>
<circle cx="384.6" cy="269.0" r="0.42" fill="#e8968a" opacity="0.85"/>
<circle cx="370.1" cy="277.8" r="0.42" fill="#e8968a" opacity="0.85"/>
<circle cx="384.3" cy="270.5" r="0.42" fill="#e8968a" opacity="0.85"/>
<circle cx="378.6" cy="276.7" r="0.42" fill="#e8968a" opacity="0.85"/>
<circle cx="368.7" cy="280.5" r="0.42" fill="#e8968a" opacity="0.85"/>
<circle cx="386.1" cy="271.4" r="0.42" fill="#e8968a" opacity="0.85"/>
<circle cx="383.2" cy="275.5" r="0.42" fill="#e8968a" opacity="0.85"/>
<circle cx="386.4" cy="272.3" r="0.42" fill="#e8968a" opacity="0.85"/>
<circle cx="371.2" cy="277.3" r="0.42" fill="#e8968a" opacity="0.85"/>
<circle cx="384.6" cy="271.6" r="0.42" fill="#e8968a" opacity="0.85"/>
<circle cx="378.0" cy="275.9" r="0.42" fill="#e8968a" opacity="0.85"/>
<circle cx="375.1" cy="277.9" r="0.42" fill="#e8968a" opacity="0.85"/>
<circle cx="378.9" cy="274.4" r="0.42" fill="#e8968a" opacity="0.85"/>
<circle cx="373.9" cy="276.5" r="0.42" fill="#e8968a" opacity="0.85"/>
<circle cx="373.2" cy="283.2" r="0.42" fill="#e8968a" opacity="0.85"/>
<circle cx="386.7" cy="268.8" r="0.42" fill="#e8968a" opacity="0.85"/>
<circle cx="369.6" cy="282.7" r="0.42" fill="#e8968a" opacity="0.85"/>
<circle cx="368.0" cy="283.9" r="0.42" fill="#e8968a" opacity="0.85"/>
<circle cx="383.3" cy="271.2" r="0.42" fill="#e8968a" opacity="0.85"/>
<circle cx="382.3" cy="267.5" r="0.42" fill="#e8968a" opacity="0.85"/>
<circle cx="373.2" cy="283.9" r="0.42" fill="#e8968a" opacity="0.85"/>
<circle cx="380.9" cy="278.3" r="0.42" fill="#e8968a" opacity="0.85"/>
<circle cx="380.7" cy="272.3" r="0.42" fill="#e8968a" opacity="0.85"/>
<circle cx="387.2" cy="271.1" r="0.42" fill="#e8968a" opacity="0.85"/>
<circle cx="376.4" cy="277.9" r="0.42" fill="#e8968a" opacity="0.85"/>
<circle cx="384.8" cy="269.5" r="0.42" fill="#e8968a" opacity="0.85"/>
<circle cx="378.8" cy="275.6" r="0.42" fill="#e8968a" opacity="0.85"/>
<circle cx="373.3" cy="281.7" r="0.42" fill="#e8968a" opacity="0.85"/>
<circle cx="374.1" cy="281.3" r="0.42" fill="#e8968a" opacity="0.85"/>
<circle cx="373.6" cy="278.8" r="0.42" fill="#e8968a" opacity="0.85"/>
<circle cx="377.1" cy="277.9" r="0.42" fill="#e8968a" opacity="0.85"/>
<circle cx="368.4" cy="282.6" r="0.42" fill="#e8968a" opacity="0.85"/>
<circle cx="368.6" cy="281.4" r="0.42" fill="#e8968a" opacity="0.85"/>
<circle cx="371.8" cy="280.8" r="0.42" fill="#e8968a" opacity="0.85"/>
<circle cx="379.2" cy="273.7" r="0.42" fill="#e8968a" opacity="0.85"/>
<circle cx="376.5" cy="270.3" r="0.42" fill="#e8968a" opacity="0.85"/>
<circle cx="377.0" cy="275.4" r="0.42" fill="#e8968a" opacity="0.85"/>
<circle cx="379.2" cy="273.9" r="0.42" fill="#e8968a" opacity="0.85"/>
<circle cx="370.2" cy="284.2" r="0.42" fill="#e8968a" opacity="0.85"/>
<circle cx="382.1" cy="272.4" r="0.42" fill="#e8968a" opacity="0.85"/>
<circle cx="372.5" cy="279.9" r="0.42" fill="#e8968a" opacity="0.85"/>
<circle cx="380.8" cy="273.7" r="0.42" fill="#e8968a" opacity="0.85"/>
<circle cx="373.7" cy="279.0" r="0.42" fill="#e8968a" opacity="0.85"/>
<circle cx="377.0" cy="280.7" r="0.42" fill="#e8968a" opacity="0.85"/>
<circle cx="384.3" cy="267.5" r="0.42" fill="#e8968a" opacity="0.85"/>
<circle cx="384.9" cy="269.6" r="0.42" fill="#e8968a" opacity="0.85"/>
<circle cx="366.6" cy="286.8" r="0.42" fill="#e8968a" opacity="0.85"/>
<circle cx="379.0" cy="277.1" r="0.42" fill="#e8968a" opacity="0.85"/>
<circle cx="368.2" cy="286.0" r="0.42" fill="#e8968a" opacity="0.85"/>
<circle cx="377.0" cy="277.0" r="0.42" fill="#e8968a" opacity="0.85"/>
<circle cx="375.2" cy="280.9" r="0.42" fill="#e8968a" opacity="0.85"/>
<circle cx="378.8" cy="272.0" r="0.42" fill="#e8968a" opacity="0.85"/>
<circle cx="383.1" cy="270.5" r="0.42" fill="#e8968a" opacity="0.85"/>
<circle cx="376.4" cy="278.1" r="0.42" fill="#e8968a" opacity="0.85"/>
<circle cx="381.6" cy="271.2" r="0.42" fill="#e8968a" opacity="0.85"/>
<circle cx="385.6" cy="268.3" r="0.42" fill="#e8968a" opacity="0.85"/>
<circle cx="382.4" cy="270.5" r="0.42" fill="#e8968a" opacity="0.85"/>
<circle cx="375.3" cy="274.7" r="0.42" fill="#e8968a" opacity="0.85"/>
<circle cx="384.2" cy="268.3" r="0.42" fill="#e8968a" opacity="0.85"/>
<circle cx="383.3" cy="266.5" r="0.42" fill="#e8968a" opacity="0.85"/>
<circle cx="374.5" cy="280.1" r="0.42" fill="#e8968a" opacity="0.85"/>
<circle cx="378.7" cy="279.6" r="0.42" fill="#e8968a" opacity="0.85"/>
<circle cx="377.5" cy="272.4" r="0.42" fill="#e8968a" opacity="0.85"/>
<circle cx="381.1" cy="272.3" r="0.42" fill="#e8968a" opacity="0.85"/>
<circle cx="383.0" cy="268.3" r="0.42" fill="#e8968a" opacity="0.85"/>
<circle cx="378.6" cy="274.0" r="0.42" fill="#e8968a" opacity="0.85"/>
<circle cx="382.1" cy="272.1" r="0.42" fill="#e8968a" opacity="0.85"/>
<circle cx="374.1" cy="278.1" r="0.42" fill="#e8968a" opacity="0.85"/>
<circle cx="384.2" cy="271.0" r="0.42" fill="#e8968a" opacity="0.85"/>
<circle cx="373.6" cy="277.5" r="0.42" fill="#e8968a" opacity="0.85"/>
<circle cx="380.6" cy="269.2" r="0.42" fill="#e8968a" opacity="0.85"/>
<circle cx="371.2" cy="284.3" r="0.42" fill="#e8968a" opacity="0.85"/>
<circle cx="376.9" cy="288.1" r="0.42" fill="#e8968a" opacity="0.85"/>
<circle cx="368.1" cy="289.7" r="0.42" fill="#e8968a" opacity="0.85"/>
<circle cx="368.7" cy="288.3" r="0.42" fill="#e8968a" opacity="0.85"/>
<circle cx="376.3" cy="290.0" r="0.42" fill="#e8968a" opacity="0.85"/>
<circle cx="376.1" cy="288.2" r="0.42" fill="#e8968a" opacity="0.85"/>
<circle cx="373.6" cy="289.7" r="0.42" fill="#e8968a" opacity="0.85"/>
<circle cx="373.6" cy="290.1" r="0.42" fill="#e8968a" opacity="0.85"/>
<circle cx="370.4" cy="289.9" r="0.42" fill="#e8968a" opacity="0.85"/>
<circle cx="379.7" cy="288.7" r="0.42" fill="#e8968a" opacity="0.85"/>
<circle cx="373.5" cy="288.4" r="0.42" fill="#e8968a" opacity="0.85"/>
<circle cx="377.8" cy="289.6" r="0.42" fill="#e8968a" opacity="0.85"/>
<circle cx="371.2" cy="288.3" r="0.42" fill="#e8968a" opacity="0.85"/>
<circle cx="370.5" cy="289.1" r="0.42" fill="#e8968a" opacity="0.85"/>
<circle cx="375.0" cy="288.3" r="0.42" fill="#e8968a" opacity="0.85"/>
<circle cx="369.7" cy="286.1" r="0.42" fill="#e8968a" opacity="0.85"/>
<circle cx="369.6" cy="288.1" r="0.42" fill="#e8968a" opacity="0.85"/>
<circle cx="377.8" cy="286.4" r="0.42" fill="#e8968a" opacity="0.85"/>
<circle cx="376.4" cy="288.4" r="0.42" fill="#e8968a" opacity="0.85"/>
<circle cx="370.8" cy="289.4" r="0.42" fill="#e8968a" opacity="0.85"/>
<circle cx="368.3" cy="287.8" r="0.42" fill="#e8968a" opacity="0.85"/>
<circle cx="368.0" cy="287.4" r="0.42" fill="#e8968a" opacity="0.85"/>
<circle cx="371.6" cy="288.6" r="0.42" fill="#e8968a" opacity="0.85"/>
<circle cx="369.7" cy="288.0" r="0.42" fill="#e8968a" opacity="0.85"/>
<circle cx="378.1" cy="289.2" r="0.42" fill="#e8968a" opacity="0.85"/>
<circle cx="368.0" cy="288.5" r="0.42" fill="#e8968a" opacity="0.85"/>
<circle cx="369.4" cy="286.6" r="0.42" fill="#e8968a" opacity="0.85"/>
<circle cx="379.1" cy="288.0" r="0.42" fill="#e8968a" opacity="0.85"/>
<circle cx="371.5" cy="286.4" r="0.42" fill="#e8968a" opacity="0.85"/>
<circle cx="372.5" cy="285.6" r="0.42" fill="#e8968a" opacity="0.85"/>
<circle cx="375.1" cy="290.8" r="0.42" fill="#e8968a" opacity="0.85"/>
<g filter="url(#fb)"><ellipse cx="364.8" cy="286.3" rx="4.6" ry="4.5" fill="#eba090"/></g>
<rect x="303.1" y="193.1" width="51.6" height="51.2" fill="none" stroke="#3a3a3a" stroke-width="0.7"/>
<line x1="317.0" y1="193.1" x2="317.0" y2="244.3" stroke="#3a3a3a" stroke-width="0.7"/>
<line x1="303.1" y1="226.8" x2="354.70000000000005" y2="226.8" stroke="#3a3a3a" stroke-width="0.7"/>
<line x1="302.0" y1="242.3" x2="303.1" y2="242.3" stroke="#555" stroke-width="0.45"/>
<line x1="302.0" y1="238.4" x2="303.1" y2="238.4" stroke="#555" stroke-width="0.45"/>
<line x1="302.0" y1="234.5" x2="303.1" y2="234.5" stroke="#555" stroke-width="0.45"/>
<line x1="302.0" y1="230.60000000000002" x2="303.1" y2="230.60000000000002" stroke="#555" stroke-width="0.45"/>
<line x1="302.0" y1="226.70000000000002" x2="303.1" y2="226.70000000000002" stroke="#555" stroke-width="0.45"/>
<line x1="302.0" y1="222.8" x2="303.1" y2="222.8" stroke="#555" stroke-width="0.45"/>
<line x1="302.0" y1="218.9" x2="303.1" y2="218.9" stroke="#555" stroke-width="0.45"/>
<line x1="302.0" y1="215.0" x2="303.1" y2="215.0" stroke="#555" stroke-width="0.45"/>
<line x1="302.0" y1="211.10000000000002" x2="303.1" y2="211.10000000000002" stroke="#555" stroke-width="0.45"/>
<line x1="302.0" y1="207.20000000000002" x2="303.1" y2="207.20000000000002" stroke="#555" stroke-width="0.45"/>
<line x1="302.0" y1="203.3" x2="303.1" y2="203.3" stroke="#555" stroke-width="0.45"/>
<line x1="302.0" y1="199.4" x2="303.1" y2="199.4" stroke="#555" stroke-width="0.45"/>
<line x1="302.0" y1="195.5" x2="303.1" y2="195.5" stroke="#555" stroke-width="0.45"/>
<line x1="305.1" y1="244.3" x2="305.1" y2="245.4" stroke="#555" stroke-width="0.45"/>
<line x1="308.8" y1="244.3" x2="308.8" y2="245.4" stroke="#555" stroke-width="0.45"/>
<line x1="312.5" y1="244.3" x2="312.5" y2="245.4" stroke="#555" stroke-width="0.45"/>
<line x1="316.20000000000005" y1="244.3" x2="316.20000000000005" y2="245.4" stroke="#555" stroke-width="0.45"/>
<line x1="319.90000000000003" y1="244.3" x2="319.90000000000003" y2="245.4" stroke="#555" stroke-width="0.45"/>
<line x1="323.6" y1="244.3" x2="323.6" y2="245.4" stroke="#555" stroke-width="0.45"/>
<line x1="327.3" y1="244.3" x2="327.3" y2="245.4" stroke="#555" stroke-width="0.45"/>
<line x1="331.0" y1="244.3" x2="331.0" y2="245.4" stroke="#555" stroke-width="0.45"/>
<line x1="334.70000000000005" y1="244.3" x2="334.70000000000005" y2="245.4" stroke="#555" stroke-width="0.45"/>
<line x1="338.40000000000003" y1="244.3" x2="338.40000000000003" y2="245.4" stroke="#555" stroke-width="0.45"/>
<line x1="342.1" y1="244.3" x2="342.1" y2="245.4" stroke="#555" stroke-width="0.45"/>
<line x1="345.8" y1="244.3" x2="345.8" y2="245.4" stroke="#555" stroke-width="0.45"/>
<line x1="349.5" y1="244.3" x2="349.5" y2="245.4" stroke="#555" stroke-width="0.45"/>
<rect x="307.6" y="244.3" width="6" height="1.0" fill="#333" stroke="none" stroke-width="0.8"/>
<text x="305.5" y="206.7" font-size="6.8" text-anchor="start" fill="#231f20" stroke="#231f20" stroke-width="0.07">0.4</text>
<text x="347.70000000000005" y="206.7" font-size="6.8" text-anchor="end" fill="#231f20" stroke="#231f20" stroke-width="0.07">0.1</text>
<text x="304.70000000000005" y="242.60000000000002" font-size="6.8" text-anchor="start" fill="#231f20" stroke="#231f20" stroke-width="0.07">99.0</text>
<text x="347.70000000000005" y="242.60000000000002" font-size="6.8" text-anchor="end" fill="#231f20" stroke="#231f20" stroke-width="0.07">0.5</text>
<rect x="355.9" y="193.1" width="51.2" height="51.2" fill="none" stroke="#3a3a3a" stroke-width="0.7"/>
<line x1="370.4" y1="193.1" x2="370.4" y2="244.3" stroke="#3a3a3a" stroke-width="0.7"/>
<line x1="355.9" y1="226.8" x2="407.09999999999997" y2="226.8" stroke="#3a3a3a" stroke-width="0.7"/>
<line x1="354.79999999999995" y1="242.3" x2="355.9" y2="242.3" stroke="#555" stroke-width="0.45"/>
<line x1="354.79999999999995" y1="238.4" x2="355.9" y2="238.4" stroke="#555" stroke-width="0.45"/>
<line x1="354.79999999999995" y1="234.5" x2="355.9" y2="234.5" stroke="#555" stroke-width="0.45"/>
<line x1="354.79999999999995" y1="230.60000000000002" x2="355.9" y2="230.60000000000002" stroke="#555" stroke-width="0.45"/>
<line x1="354.79999999999995" y1="226.70000000000002" x2="355.9" y2="226.70000000000002" stroke="#555" stroke-width="0.45"/>
<line x1="354.79999999999995" y1="222.8" x2="355.9" y2="222.8" stroke="#555" stroke-width="0.45"/>
<line x1="354.79999999999995" y1="218.9" x2="355.9" y2="218.9" stroke="#555" stroke-width="0.45"/>
<line x1="354.79999999999995" y1="215.0" x2="355.9" y2="215.0" stroke="#555" stroke-width="0.45"/>
<line x1="354.79999999999995" y1="211.10000000000002" x2="355.9" y2="211.10000000000002" stroke="#555" stroke-width="0.45"/>
<line x1="354.79999999999995" y1="207.20000000000002" x2="355.9" y2="207.20000000000002" stroke="#555" stroke-width="0.45"/>
<line x1="354.79999999999995" y1="203.3" x2="355.9" y2="203.3" stroke="#555" stroke-width="0.45"/>
<line x1="354.79999999999995" y1="199.4" x2="355.9" y2="199.4" stroke="#555" stroke-width="0.45"/>
<line x1="354.79999999999995" y1="195.5" x2="355.9" y2="195.5" stroke="#555" stroke-width="0.45"/>
<line x1="357.9" y1="244.3" x2="357.9" y2="245.4" stroke="#555" stroke-width="0.45"/>
<line x1="361.59999999999997" y1="244.3" x2="361.59999999999997" y2="245.4" stroke="#555" stroke-width="0.45"/>
<line x1="365.29999999999995" y1="244.3" x2="365.29999999999995" y2="245.4" stroke="#555" stroke-width="0.45"/>
<line x1="369.0" y1="244.3" x2="369.0" y2="245.4" stroke="#555" stroke-width="0.45"/>
<line x1="372.7" y1="244.3" x2="372.7" y2="245.4" stroke="#555" stroke-width="0.45"/>
<line x1="376.4" y1="244.3" x2="376.4" y2="245.4" stroke="#555" stroke-width="0.45"/>
<line x1="380.09999999999997" y1="244.3" x2="380.09999999999997" y2="245.4" stroke="#555" stroke-width="0.45"/>
<line x1="383.79999999999995" y1="244.3" x2="383.79999999999995" y2="245.4" stroke="#555" stroke-width="0.45"/>
<line x1="387.5" y1="244.3" x2="387.5" y2="245.4" stroke="#555" stroke-width="0.45"/>
<line x1="391.2" y1="244.3" x2="391.2" y2="245.4" stroke="#555" stroke-width="0.45"/>
<line x1="394.9" y1="244.3" x2="394.9" y2="245.4" stroke="#555" stroke-width="0.45"/>
<line x1="398.59999999999997" y1="244.3" x2="398.59999999999997" y2="245.4" stroke="#555" stroke-width="0.45"/>
<line x1="402.29999999999995" y1="244.3" x2="402.29999999999995" y2="245.4" stroke="#555" stroke-width="0.45"/>
<rect x="360.4" y="244.3" width="6" height="1.0" fill="#333" stroke="none" stroke-width="0.8"/>
<text x="358.29999999999995" y="206.7" font-size="6.8" text-anchor="start" fill="#231f20" stroke="#231f20" stroke-width="0.07">0.1</text>
<text x="400.09999999999997" y="206.7" font-size="6.8" text-anchor="end" fill="#231f20" stroke="#231f20" stroke-width="0.07">20.6</text>
<text x="357.5" y="242.60000000000002" font-size="6.8" text-anchor="start" fill="#231f20" stroke="#231f20" stroke-width="0.07">63.9</text>
<text x="400.09999999999997" y="242.60000000000002" font-size="6.8" text-anchor="end" fill="#231f20" stroke="#231f20" stroke-width="0.07">15.4</text>
<rect x="303.1" y="246.3" width="51.6" height="50.1" fill="none" stroke="#3a3a3a" stroke-width="0.7"/>
<line x1="317.0" y1="246.3" x2="317.0" y2="296.40000000000003" stroke="#3a3a3a" stroke-width="0.7"/>
<line x1="303.1" y1="279.3" x2="354.70000000000005" y2="279.3" stroke="#3a3a3a" stroke-width="0.7"/>
<line x1="302.0" y1="294.40000000000003" x2="303.1" y2="294.40000000000003" stroke="#555" stroke-width="0.45"/>
<line x1="302.0" y1="290.50000000000006" x2="303.1" y2="290.50000000000006" stroke="#555" stroke-width="0.45"/>
<line x1="302.0" y1="286.6" x2="303.1" y2="286.6" stroke="#555" stroke-width="0.45"/>
<line x1="302.0" y1="282.70000000000005" x2="303.1" y2="282.70000000000005" stroke="#555" stroke-width="0.45"/>
<line x1="302.0" y1="278.8" x2="303.1" y2="278.8" stroke="#555" stroke-width="0.45"/>
<line x1="302.0" y1="274.90000000000003" x2="303.1" y2="274.90000000000003" stroke="#555" stroke-width="0.45"/>
<line x1="302.0" y1="271.00000000000006" x2="303.1" y2="271.00000000000006" stroke="#555" stroke-width="0.45"/>
<line x1="302.0" y1="267.1" x2="303.1" y2="267.1" stroke="#555" stroke-width="0.45"/>
<line x1="302.0" y1="263.20000000000005" x2="303.1" y2="263.20000000000005" stroke="#555" stroke-width="0.45"/>
<line x1="302.0" y1="259.3" x2="303.1" y2="259.3" stroke="#555" stroke-width="0.45"/>
<line x1="302.0" y1="255.40000000000003" x2="303.1" y2="255.40000000000003" stroke="#555" stroke-width="0.45"/>
<line x1="302.0" y1="251.50000000000003" x2="303.1" y2="251.50000000000003" stroke="#555" stroke-width="0.45"/>
<line x1="305.1" y1="296.40000000000003" x2="305.1" y2="297.50000000000006" stroke="#555" stroke-width="0.45"/>
<line x1="308.8" y1="296.40000000000003" x2="308.8" y2="297.50000000000006" stroke="#555" stroke-width="0.45"/>
<line x1="312.5" y1="296.40000000000003" x2="312.5" y2="297.50000000000006" stroke="#555" stroke-width="0.45"/>
<line x1="316.20000000000005" y1="296.40000000000003" x2="316.20000000000005" y2="297.50000000000006" stroke="#555" stroke-width="0.45"/>
<line x1="319.90000000000003" y1="296.40000000000003" x2="319.90000000000003" y2="297.50000000000006" stroke="#555" stroke-width="0.45"/>
<line x1="323.6" y1="296.40000000000003" x2="323.6" y2="297.50000000000006" stroke="#555" stroke-width="0.45"/>
<line x1="327.3" y1="296.40000000000003" x2="327.3" y2="297.50000000000006" stroke="#555" stroke-width="0.45"/>
<line x1="331.0" y1="296.40000000000003" x2="331.0" y2="297.50000000000006" stroke="#555" stroke-width="0.45"/>
<line x1="334.70000000000005" y1="296.40000000000003" x2="334.70000000000005" y2="297.50000000000006" stroke="#555" stroke-width="0.45"/>
<line x1="338.40000000000003" y1="296.40000000000003" x2="338.40000000000003" y2="297.50000000000006" stroke="#555" stroke-width="0.45"/>
<line x1="342.1" y1="296.40000000000003" x2="342.1" y2="297.50000000000006" stroke="#555" stroke-width="0.45"/>
<line x1="345.8" y1="296.40000000000003" x2="345.8" y2="297.50000000000006" stroke="#555" stroke-width="0.45"/>
<line x1="349.5" y1="296.40000000000003" x2="349.5" y2="297.50000000000006" stroke="#555" stroke-width="0.45"/>
<rect x="307.6" y="296.40000000000003" width="6" height="1.0" fill="#333" stroke="none" stroke-width="0.8"/>
<text x="305.5" y="259.90000000000003" font-size="6.8" text-anchor="start" fill="#231f20" stroke="#231f20" stroke-width="0.07">0.3</text>
<text x="347.70000000000005" y="259.90000000000003" font-size="6.8" text-anchor="end" fill="#231f20" stroke="#231f20" stroke-width="0.07">0.2</text>
<text x="304.70000000000005" y="294.70000000000005" font-size="6.8" text-anchor="start" fill="#231f20" stroke="#231f20" stroke-width="0.07">98.7</text>
<text x="347.70000000000005" y="294.70000000000005" font-size="6.8" text-anchor="end" fill="#231f20" stroke="#231f20" stroke-width="0.07">0.9</text>
<rect x="355.9" y="246.3" width="51.2" height="50.1" fill="none" stroke="#3a3a3a" stroke-width="0.7"/>
<line x1="370.4" y1="246.3" x2="370.4" y2="296.40000000000003" stroke="#3a3a3a" stroke-width="0.7"/>
<line x1="355.9" y1="279.3" x2="407.09999999999997" y2="279.3" stroke="#3a3a3a" stroke-width="0.7"/>
<line x1="354.79999999999995" y1="294.40000000000003" x2="355.9" y2="294.40000000000003" stroke="#555" stroke-width="0.45"/>
<line x1="354.79999999999995" y1="290.50000000000006" x2="355.9" y2="290.50000000000006" stroke="#555" stroke-width="0.45"/>
<line x1="354.79999999999995" y1="286.6" x2="355.9" y2="286.6" stroke="#555" stroke-width="0.45"/>
<line x1="354.79999999999995" y1="282.70000000000005" x2="355.9" y2="282.70000000000005" stroke="#555" stroke-width="0.45"/>
<line x1="354.79999999999995" y1="278.8" x2="355.9" y2="278.8" stroke="#555" stroke-width="0.45"/>
<line x1="354.79999999999995" y1="274.90000000000003" x2="355.9" y2="274.90000000000003" stroke="#555" stroke-width="0.45"/>
<line x1="354.79999999999995" y1="271.00000000000006" x2="355.9" y2="271.00000000000006" stroke="#555" stroke-width="0.45"/>
<line x1="354.79999999999995" y1="267.1" x2="355.9" y2="267.1" stroke="#555" stroke-width="0.45"/>
<line x1="354.79999999999995" y1="263.20000000000005" x2="355.9" y2="263.20000000000005" stroke="#555" stroke-width="0.45"/>
<line x1="354.79999999999995" y1="259.3" x2="355.9" y2="259.3" stroke="#555" stroke-width="0.45"/>
<line x1="354.79999999999995" y1="255.40000000000003" x2="355.9" y2="255.40000000000003" stroke="#555" stroke-width="0.45"/>
<line x1="354.79999999999995" y1="251.50000000000003" x2="355.9" y2="251.50000000000003" stroke="#555" stroke-width="0.45"/>
<line x1="357.9" y1="296.40000000000003" x2="357.9" y2="297.50000000000006" stroke="#555" stroke-width="0.45"/>
<line x1="361.59999999999997" y1="296.40000000000003" x2="361.59999999999997" y2="297.50000000000006" stroke="#555" stroke-width="0.45"/>
<line x1="365.29999999999995" y1="296.40000000000003" x2="365.29999999999995" y2="297.50000000000006" stroke="#555" stroke-width="0.45"/>
<line x1="369.0" y1="296.40000000000003" x2="369.0" y2="297.50000000000006" stroke="#555" stroke-width="0.45"/>
<line x1="372.7" y1="296.40000000000003" x2="372.7" y2="297.50000000000006" stroke="#555" stroke-width="0.45"/>
<line x1="376.4" y1="296.40000000000003" x2="376.4" y2="297.50000000000006" stroke="#555" stroke-width="0.45"/>
<line x1="380.09999999999997" y1="296.40000000000003" x2="380.09999999999997" y2="297.50000000000006" stroke="#555" stroke-width="0.45"/>
<line x1="383.79999999999995" y1="296.40000000000003" x2="383.79999999999995" y2="297.50000000000006" stroke="#555" stroke-width="0.45"/>
<line x1="387.5" y1="296.40000000000003" x2="387.5" y2="297.50000000000006" stroke="#555" stroke-width="0.45"/>
<line x1="391.2" y1="296.40000000000003" x2="391.2" y2="297.50000000000006" stroke="#555" stroke-width="0.45"/>
<line x1="394.9" y1="296.40000000000003" x2="394.9" y2="297.50000000000006" stroke="#555" stroke-width="0.45"/>
<line x1="398.59999999999997" y1="296.40000000000003" x2="398.59999999999997" y2="297.50000000000006" stroke="#555" stroke-width="0.45"/>
<line x1="402.29999999999995" y1="296.40000000000003" x2="402.29999999999995" y2="297.50000000000006" stroke="#555" stroke-width="0.45"/>
<rect x="360.4" y="296.40000000000003" width="6" height="1.0" fill="#333" stroke="none" stroke-width="0.8"/>
<text x="358.29999999999995" y="259.90000000000003" font-size="6.8" text-anchor="start" fill="#231f20" stroke="#231f20" stroke-width="0.07">0.1</text>
<text x="400.09999999999997" y="259.90000000000003" font-size="6.8" text-anchor="end" fill="#231f20" stroke="#231f20" stroke-width="0.07">6.2</text>
<text x="357.5" y="294.70000000000005" font-size="6.8" text-anchor="start" fill="#231f20" stroke="#231f20" stroke-width="0.07">82.8</text>
<text x="400.09999999999997" y="294.70000000000005" font-size="6.8" text-anchor="end" fill="#231f20" stroke="#231f20" stroke-width="0.07">11.3</text>
<text x="275.6" y="215.8" font-size="8.2" text-anchor="middle" fill="#231f20" stroke="#231f20" stroke-width="0.07" transform="rotate(-90 275.6 215.8)">WT</text>
<text x="276.6" y="269.6" font-size="8.2" text-anchor="middle" fill="#231f20" stroke="#231f20" stroke-width="0.07" transform="rotate(-90 276.6 269.6)">XKR8 KO</text>
<text x="284.6" y="266.5" font-size="8.6" text-anchor="middle" fill="#231f20" stroke="#231f20" stroke-width="0.07" transform="rotate(-90 284.6 266.5)">Annexin V-APC</text>
<line x1="282.6" y1="234.0" x2="282.6" y2="197" stroke="#111" stroke-width="0.8"/>
<path d="M282.6,193.6 L281,197.8 L284.2,197.8 Z" fill="#111"/>
<text x="298.6" y="253.3" font-size="7.6" text-anchor="end" fill="#231f20" stroke="#231f20" stroke-width="0.07">10<tspan font-size="4.8" dy="-2.8">5</tspan></text>
<text x="298.6" y="265.4" font-size="7.6" text-anchor="end" fill="#231f20" stroke="#231f20" stroke-width="0.07">10<tspan font-size="4.8" dy="-2.8">4</tspan></text>
<text x="298.6" y="277.5" font-size="7.6" text-anchor="end" fill="#231f20" stroke="#231f20" stroke-width="0.07">10<tspan font-size="4.8" dy="-2.8">3</tspan></text>
<text x="298.2" y="290.0" font-size="7.6" text-anchor="end" fill="#231f20" stroke="#231f20" stroke-width="0.07">0</text>
<text x="311.2" y="307.6" font-size="7.8" text-anchor="middle" fill="#231f20" stroke="#231f20" stroke-width="0.07">0</text>
<text x="325.6" y="307.6" font-size="7.8" text-anchor="middle" fill="#231f20" stroke="#231f20" stroke-width="0.07">10<tspan font-size="4.8" dy="-2.8">3</tspan></text>
<text x="337.5" y="307.6" font-size="7.8" text-anchor="middle" fill="#231f20" stroke="#231f20" stroke-width="0.07">10<tspan font-size="4.8" dy="-2.8">4</tspan></text>
<text x="349.2" y="307.6" font-size="7.8" text-anchor="middle" fill="#231f20" stroke="#231f20" stroke-width="0.07">10<tspan font-size="4.8" dy="-2.8">5</tspan></text>
<text x="301.7" y="317.3" font-size="9.0" text-anchor="start" fill="#231f20" stroke="#231f20" stroke-width="0.07" textLength="62" lengthAdjust="spacingAndGlyphs">Duramycin-Cy3</text>
<line x1="364.0" y1="314.6" x2="403" y2="314.6" stroke="#111" stroke-width="0.8"/>
<path d="M406.8,314.6 L402.4,313.0 L402.4,316.2 Z" fill="#111"/>
<text x="417.0" y="168.3" font-size="13.5" text-anchor="start" fill="#000" stroke="#000" stroke-width="0.35" font-weight="bold">i</text>
<rect x="458.6" y="179.5" width="4.4" height="4.4" fill="#6d96cb" stroke="#465f85" stroke-width="0.5"/>
<text x="466.90000000000003" y="184.29999999999998" font-size="7.2" text-anchor="start" fill="#231f20" stroke="#231f20" stroke-width="0.07" textLength="10.2" lengthAdjust="spacingAndGlyphs">WT</text>
<circle cx="493.30" cy="181.70" r="2.3" fill="#f1ae9f" stroke="#c97b6d" stroke-width="0.5"/>
<text x="499.40000000000003" y="184.29999999999998" font-size="7.2" text-anchor="start" fill="#231f20" stroke="#231f20" stroke-width="0.07">XKR8 KO</text>
<line x1="448.0" y1="194.4" x2="448.0" y2="284.1" stroke="#8a8a8a" stroke-width="0.8"/>
<line x1="445.5" y1="284.0" x2="448.0" y2="284.0" stroke="#8a8a8a" stroke-width="0.8"/>
<text x="441.4" y="286.75" font-size="7.8" text-anchor="end" fill="#231f20" stroke="#231f20" stroke-width="0.07">0</text>
<line x1="445.5" y1="261.6" x2="448.0" y2="261.6" stroke="#8a8a8a" stroke-width="0.8"/>
<text x="441.4" y="264.35" font-size="7.8" text-anchor="end" fill="#231f20" stroke="#231f20" stroke-width="0.07">10</text>
<line x1="445.5" y1="239.2" x2="448.0" y2="239.2" stroke="#8a8a8a" stroke-width="0.8"/>
<text x="441.4" y="241.95" font-size="7.8" text-anchor="end" fill="#231f20" stroke="#231f20" stroke-width="0.07">20</text>
<line x1="445.5" y1="216.8" x2="448.0" y2="216.8" stroke="#8a8a8a" stroke-width="0.8"/>
<text x="441.4" y="219.55" font-size="7.8" text-anchor="end" fill="#231f20" stroke="#231f20" stroke-width="0.07">30</text>
<line x1="445.5" y1="194.39999999999998" x2="448.0" y2="194.39999999999998" stroke="#8a8a8a" stroke-width="0.8"/>
<text x="441.4" y="197.14999999999998" font-size="7.8" text-anchor="end" fill="#231f20" stroke="#231f20" stroke-width="0.07">40</text>
<line x1="448.0" y1="284.1" x2="537" y2="284.1" stroke="#8a8a8a" stroke-width="0.8"/>
<text x="424.6" y="238.8" font-size="8.3" text-anchor="middle" fill="#231f20" stroke="#231f20" stroke-width="0.07" transform="rotate(-90 424.6 238.8)">PLs exposure (%)</text>
<rect x="474.5" y="240.32" width="7.100000000000023" height="43.68000000000001" fill="#ffffff" stroke="#a8a8a8" stroke-width="0.85"/>
<rect x="483.7" y="271.68" width="7.100000000000023" height="12.319999999999993" fill="#ffffff" stroke="#a8a8a8" stroke-width="0.85"/>
<rect x="521.6" y="205.6" width="6.7999999999999545" height="78.4" fill="#ffffff" stroke="#a8a8a8" stroke-width="0.85"/>
<rect x="530.8" y="247.04" width="6.600000000000023" height="36.96000000000001" fill="#ffffff" stroke="#a8a8a8" stroke-width="0.85"/>
<rect x="450.3" y="280.456" width="4.4" height="4.4" fill="#6d96cb" stroke="#465f85" stroke-width="0.5"/>
<rect x="453.3" y="280.456" width="4.4" height="4.4" fill="#6d96cb" stroke="#465f85" stroke-width="0.5"/>
<circle cx="461.50" cy="282.88" r="2.2" fill="#f1ae9f" stroke="#c97b6d" stroke-width="0.5"/>
<circle cx="464.50" cy="282.88" r="2.2" fill="#f1ae9f" stroke="#c97b6d" stroke-width="0.5"/>
<rect x="474.6" y="234.76" width="4.4" height="4.4" fill="#6d96cb" stroke="#465f85" stroke-width="0.5"/>
<rect x="477.3" y="235.88" width="4.4" height="4.4" fill="#6d96cb" stroke="#465f85" stroke-width="0.5"/>
<rect x="475.40000000000003" y="244.168" width="4.4" height="4.4" fill="#6d96cb" stroke="#465f85" stroke-width="0.5"/>
<circle cx="485.50" cy="273.92" r="2.2" fill="#f1ae9f" stroke="#c97b6d" stroke-width="0.5"/>
<circle cx="488.50" cy="271.01" r="2.2" fill="#f1ae9f" stroke="#c97b6d" stroke-width="0.5"/>
<circle cx="486.80" cy="270.56" r="2.2" fill="#f1ae9f" stroke="#c97b6d" stroke-width="0.5"/>
<rect x="498.3" y="280.456" width="4.4" height="4.4" fill="#6d96cb" stroke="#465f85" stroke-width="0.5"/>
<rect x="501.0" y="280.456" width="4.4" height="4.4" fill="#6d96cb" stroke="#465f85" stroke-width="0.5"/>
<circle cx="509.50" cy="281.76" r="2.2" fill="#f1ae9f" stroke="#c97b6d" stroke-width="0.5"/>
<circle cx="512.00" cy="279.52" r="2.2" fill="#f1ae9f" stroke="#c97b6d" stroke-width="0.5"/>
<rect x="521.4" y="200.04000000000002" width="4.4" height="4.4" fill="#6d96cb" stroke="#465f85" stroke-width="0.5"/>
<rect x="524.1999999999999" y="203.4" width="4.4" height="4.4" fill="#6d96cb" stroke="#465f85" stroke-width="0.5"/>
<rect x="522.0" y="206.76" width="4.4" height="4.4" fill="#6d96cb" stroke="#465f85" stroke-width="0.5"/>
<circle cx="533.60" cy="242.56" r="2.2" fill="#f1ae9f" stroke="#c97b6d" stroke-width="0.5"/>
<circle cx="535.80" cy="245.92" r="2.2" fill="#f1ae9f" stroke="#c97b6d" stroke-width="0.5"/>
<circle cx="534.00" cy="250.40" r="2.2" fill="#f1ae9f" stroke="#c97b6d" stroke-width="0.5"/>
<text x="441.5" y="298.0" font-size="8.2" text-anchor="middle" fill="#231f20" stroke="#231f20" stroke-width="0.07">PMA</text>
<text x="458.4" y="298.0" font-size="7.6" text-anchor="middle" fill="#231f20" stroke="#231f20" stroke-width="0.07">–</text>
<text x="482.1" y="298.0" font-size="7.6" text-anchor="middle" fill="#231f20" stroke="#231f20" stroke-width="0.07">+</text>
<text x="505.3" y="298.0" font-size="7.6" text-anchor="middle" fill="#231f20" stroke="#231f20" stroke-width="0.07">–</text>
<text x="529.0" y="298.0" font-size="7.6" text-anchor="middle" fill="#231f20" stroke="#231f20" stroke-width="0.07">+</text>
<line x1="451.8" y1="300.2" x2="490.8" y2="300.2" stroke="#555" stroke-width="0.75"/>
<line x1="499.5" y1="300.2" x2="536.8" y2="300.2" stroke="#555" stroke-width="0.75"/>
<text x="470.3" y="308.7" font-size="8.4" text-anchor="middle" fill="#231f20" stroke="#231f20" stroke-width="0.07">PS</text>
<text x="520.3" y="308.7" font-size="8.4" text-anchor="middle" fill="#231f20" stroke="#231f20" stroke-width="0.07">PE</text>
<line x1="458.4" y1="284.1" x2="458.4" y2="286.2" stroke="#8a8a8a" stroke-width="0.8"/>
<line x1="482.1" y1="284.1" x2="482.1" y2="286.2" stroke="#8a8a8a" stroke-width="0.8"/>
<line x1="505.3" y1="284.1" x2="505.3" y2="286.2" stroke="#8a8a8a" stroke-width="0.8"/>
<line x1="529.2" y1="284.1" x2="529.2" y2="286.2" stroke="#8a8a8a" stroke-width="0.8"/>
<line x1="478.0" y1="245.248" x2="478.0" y2="235.84" stroke="#222" stroke-width="0.75"/>
<line x1="475.8" y1="240.32" x2="480.2" y2="240.32" stroke="#222" stroke-width="0.75"/>
<line x1="476.46" y1="245.248" x2="479.54" y2="245.248" stroke="#222" stroke-width="0.7"/>
<line x1="476.46" y1="235.84" x2="479.54" y2="235.84" stroke="#222" stroke-width="0.7"/>
<line x1="534.1" y1="251.296" x2="534.1" y2="242.784" stroke="#222" stroke-width="0.75"/>
<line x1="531.9" y1="247.04" x2="536.3000000000001" y2="247.04" stroke="#222" stroke-width="0.75"/>
<line x1="532.5600000000001" y1="251.296" x2="535.64" y2="251.296" stroke="#222" stroke-width="0.7"/>
<line x1="532.5600000000001" y1="242.784" x2="535.64" y2="242.784" stroke="#222" stroke-width="0.7"/>
<line x1="451.8" y1="278.6" x2="466.4" y2="278.6" stroke="#b4b4b4" stroke-width="1.1"/>
<text x="461.1" y="276.0" font-size="6.6" text-anchor="middle" fill="#3a3a3a" stroke="#3a3a3a" stroke-width="0.07" textLength="22.5" lengthAdjust="spacingAndGlyphs">&gt;0.9999</text>
<line x1="498.7" y1="274.4" x2="514.0" y2="274.4" stroke="#b4b4b4" stroke-width="1.1"/>
<text x="505.7" y="271.9" font-size="6.6" text-anchor="middle" fill="#3a3a3a" stroke="#3a3a3a" stroke-width="0.07" textLength="18.8" lengthAdjust="spacingAndGlyphs">0.6481</text>
<line x1="474.5" y1="233.4" x2="490.0" y2="233.4" stroke="#b4b4b4" stroke-width="1.1"/>
<text x="483.1" y="229.6" font-size="6.6" text-anchor="middle" fill="#3a3a3a" stroke="#3a3a3a" stroke-width="0.07" textLength="22.0" lengthAdjust="spacingAndGlyphs">&lt;0.0001</text>
<line x1="521.8" y1="199.4" x2="537.3" y2="199.4" stroke="#b4b4b4" stroke-width="1.1"/>
<text x="530.0" y="195.3" font-size="6.6" text-anchor="middle" fill="#3a3a3a" stroke="#3a3a3a" stroke-width="0.07" textLength="22.2" lengthAdjust="spacingAndGlyphs">&lt;0.0001</text>
<text x="552.5" y="168.3" font-size="13.5" text-anchor="start" fill="#000" stroke="#000" stroke-width="0.35" font-weight="bold">j</text>
<rect x="603.0999999999999" y="179.5" width="4.4" height="4.4" fill="#6d96cb" stroke="#465f85" stroke-width="0.5"/>
<text x="611.4" y="184.29999999999998" font-size="7.2" text-anchor="start" fill="#231f20" stroke="#231f20" stroke-width="0.07" textLength="10.2" lengthAdjust="spacingAndGlyphs">WT</text>
<circle cx="638.10" cy="181.70" r="2.3" fill="#f1ae9f" stroke="#c97b6d" stroke-width="0.5"/>
<text x="644.2" y="184.29999999999998" font-size="7.2" text-anchor="start" fill="#231f20" stroke="#231f20" stroke-width="0.07">XKR8 KO</text>
<line x1="593.0" y1="194.4" x2="593.0" y2="284.2" stroke="#8a8a8a" stroke-width="0.8"/>
<line x1="590.5" y1="284.0" x2="593.0" y2="284.0" stroke="#8a8a8a" stroke-width="0.8"/>
<text x="586.4" y="286.75" font-size="7.8" text-anchor="end" fill="#231f20" stroke="#231f20" stroke-width="0.07">0</text>
<line x1="590.5" y1="261.6" x2="593.0" y2="261.6" stroke="#8a8a8a" stroke-width="0.8"/>
<text x="586.4" y="264.35" font-size="7.8" text-anchor="end" fill="#231f20" stroke="#231f20" stroke-width="0.07">10</text>
<line x1="590.5" y1="239.2" x2="593.0" y2="239.2" stroke="#8a8a8a" stroke-width="0.8"/>
<text x="586.4" y="241.95" font-size="7.8" text-anchor="end" fill="#231f20" stroke="#231f20" stroke-width="0.07">20</text>
<line x1="590.5" y1="216.8" x2="593.0" y2="216.8" stroke="#8a8a8a" stroke-width="0.8"/>
<text x="586.4" y="219.55" font-size="7.8" text-anchor="end" fill="#231f20" stroke="#231f20" stroke-width="0.07">30</text>
<line x1="590.5" y1="194.39999999999998" x2="593.0" y2="194.39999999999998" stroke="#8a8a8a" stroke-width="0.8"/>
<text x="586.4" y="197.14999999999998" font-size="7.8" text-anchor="end" fill="#231f20" stroke="#231f20" stroke-width="0.07">40</text>
<line x1="593.0" y1="284.2" x2="685" y2="284.2" stroke="#8a8a8a" stroke-width="0.8"/>
<text x="559.0" y="237.9" font-size="8.7" text-anchor="middle" fill="#231f20" stroke="#231f20" stroke-width="0.07" transform="rotate(-90 559.0 237.9)" textLength="82.5" lengthAdjust="spacingAndGlyphs">BSA-non-extractable</text>
<text x="568.4" y="238.8" font-size="8.7" text-anchor="middle" fill="#231f20" stroke="#231f20" stroke-width="0.07" transform="rotate(-90 568.4 238.8)" textLength="105" lengthAdjust="spacingAndGlyphs">NBD-PLs/total NBD-PLs (%)</text>
<rect x="594.5" y="275.04" width="7.899999999999977" height="8.95999999999998" fill="#ffffff" stroke="#a8a8a8" stroke-width="0.85"/>
<rect x="604.5" y="273.248" width="7.100000000000023" height="10.75200000000001" fill="#ffffff" stroke="#a8a8a8" stroke-width="0.85"/>
<rect x="618.4" y="212.32" width="6.300000000000068" height="71.68" fill="#ffffff" stroke="#a8a8a8" stroke-width="0.85"/>
<rect x="627.6" y="236.95999999999998" width="6.399999999999977" height="47.04000000000002" fill="#ffffff" stroke="#a8a8a8" stroke-width="0.85"/>
<rect x="642.0" y="279.072" width="6.7000000000000455" height="4.927999999999997" fill="#ffffff" stroke="#a8a8a8" stroke-width="0.85"/>
<rect x="651.0" y="279.968" width="6.899999999999977" height="4.031999999999982" fill="#ffffff" stroke="#a8a8a8" stroke-width="0.85"/>
<rect x="665.8" y="245.92" width="7.100000000000023" height="38.08000000000001" fill="#ffffff" stroke="#a8a8a8" stroke-width="0.85"/>
<rect x="675.0" y="260.48" width="6.600000000000023" height="23.519999999999982" fill="#ffffff" stroke="#a8a8a8" stroke-width="0.85"/>
<rect x="594.8" y="273.288" width="4.4" height="4.4" fill="#6d96cb" stroke="#465f85" stroke-width="0.5"/>
<rect x="597.3" y="271.72" width="4.4" height="4.4" fill="#6d96cb" stroke="#465f85" stroke-width="0.5"/>
<rect x="595.8" y="272.392" width="4.4" height="4.4" fill="#6d96cb" stroke="#465f85" stroke-width="0.5"/>
<circle cx="607.00" cy="273.70" r="2.2" fill="#f1ae9f" stroke="#c97b6d" stroke-width="0.5"/>
<circle cx="609.50" cy="272.80" r="2.2" fill="#f1ae9f" stroke="#c97b6d" stroke-width="0.5"/>
<circle cx="608.00" cy="273.25" r="2.2" fill="#f1ae9f" stroke="#c97b6d" stroke-width="0.5"/>
<rect x="618.3" y="206.76" width="4.4" height="4.4" fill="#6d96cb" stroke="#465f85" stroke-width="0.5"/>
<rect x="620.8" y="209.0" width="4.4" height="4.4" fill="#6d96cb" stroke="#465f85" stroke-width="0.5"/>
<rect x="618.8" y="213.48000000000002" width="4.4" height="4.4" fill="#6d96cb" stroke="#465f85" stroke-width="0.5"/>
<circle cx="629.50" cy="235.84" r="2.2" fill="#f1ae9f" stroke="#c97b6d" stroke-width="0.5"/>
<circle cx="631.50" cy="234.72" r="2.2" fill="#f1ae9f" stroke="#c97b6d" stroke-width="0.5"/>
<circle cx="630.20" cy="238.08" r="2.2" fill="#f1ae9f" stroke="#c97b6d" stroke-width="0.5"/>
<rect x="641.8" y="276.872" width="4.4" height="4.4" fill="#6d96cb" stroke="#465f85" stroke-width="0.5"/>
<rect x="644.3" y="276.872" width="4.4" height="4.4" fill="#6d96cb" stroke="#465f85" stroke-width="0.5"/>
<circle cx="653.50" cy="279.97" r="2.2" fill="#f1ae9f" stroke="#c97b6d" stroke-width="0.5"/>
<circle cx="655.50" cy="279.52" r="2.2" fill="#f1ae9f" stroke="#c97b6d" stroke-width="0.5"/>
<rect x="666.3" y="242.60000000000002" width="4.4" height="4.4" fill="#6d96cb" stroke="#465f85" stroke-width="0.5"/>
<rect x="668.3" y="243.72" width="4.4" height="4.4" fill="#6d96cb" stroke="#465f85" stroke-width="0.5"/>
<circle cx="677.50" cy="259.81" r="2.2" fill="#f1ae9f" stroke="#c97b6d" stroke-width="0.5"/>
<circle cx="679.50" cy="260.48" r="2.2" fill="#f1ae9f" stroke="#c97b6d" stroke-width="0.5"/>
<text x="585.8" y="298.0" font-size="8.2" text-anchor="middle" fill="#231f20" stroke="#231f20" stroke-width="0.07">PMA</text>
<text x="603.7" y="298.0" font-size="7.6" text-anchor="middle" fill="#231f20" stroke="#231f20" stroke-width="0.07">–</text>
<text x="626.8" y="298.0" font-size="7.6" text-anchor="middle" fill="#231f20" stroke="#231f20" stroke-width="0.07">+</text>
<text x="650.5" y="298.0" font-size="7.6" text-anchor="middle" fill="#231f20" stroke="#231f20" stroke-width="0.07">–</text>
<text x="673.7" y="298.0" font-size="7.6" text-anchor="middle" fill="#231f20" stroke="#231f20" stroke-width="0.07">+</text>
<line x1="597.0" y1="300.2" x2="634.7" y2="300.2" stroke="#b0b0b0" stroke-width="1.1"/>
<line x1="642.0" y1="300.2" x2="680.7" y2="300.2" stroke="#b0b0b0" stroke-width="1.1"/>
<text x="615.5" y="308.7" font-size="8.4" text-anchor="middle" fill="#231f20" stroke="#231f20" stroke-width="0.07" textLength="30.4" lengthAdjust="spacingAndGlyphs">NBD-PC</text>
<text x="656.6" y="308.7" font-size="8.4" text-anchor="middle" fill="#231f20" stroke="#231f20" stroke-width="0.07" textLength="32.0" lengthAdjust="spacingAndGlyphs">NBD-SM</text>
<line x1="603.4" y1="284.2" x2="603.4" y2="286.3" stroke="#8a8a8a" stroke-width="0.8"/>
<line x1="626.8" y1="284.2" x2="626.8" y2="286.3" stroke="#8a8a8a" stroke-width="0.8"/>
<line x1="650.5" y1="284.2" x2="650.5" y2="286.3" stroke="#8a8a8a" stroke-width="0.8"/>
<line x1="673.7" y1="284.2" x2="673.7" y2="286.3" stroke="#8a8a8a" stroke-width="0.8"/>
<line x1="595.8" y1="267.6" x2="611.7" y2="267.6" stroke="#b4b4b4" stroke-width="1.1"/>
<text x="605.0" y="265.9" font-size="6.6" text-anchor="middle" fill="#3a3a3a" stroke="#3a3a3a" stroke-width="0.07" textLength="20.5" lengthAdjust="spacingAndGlyphs">0.0566</text>
<line x1="642.4" y1="273.3" x2="658.3" y2="273.3" stroke="#b4b4b4" stroke-width="1.1"/>
<text x="650.3" y="271.4" font-size="6.6" text-anchor="middle" fill="#3a3a3a" stroke="#3a3a3a" stroke-width="0.07" textLength="17.0" lengthAdjust="spacingAndGlyphs">0.9112</text>
<line x1="619.3" y1="205.2" x2="634.8" y2="205.2" stroke="#b4b4b4" stroke-width="1.1"/>
<text x="627.5" y="201.7" font-size="6.6" text-anchor="middle" fill="#3a3a3a" stroke="#3a3a3a" stroke-width="0.07" textLength="23.2" lengthAdjust="spacingAndGlyphs">&lt;0.0001</text>
<line x1="666.7" y1="240.0" x2="681.4" y2="240.0" stroke="#b4b4b4" stroke-width="1.1"/>
<text x="674.0" y="236.6" font-size="6.6" text-anchor="middle" fill="#3a3a3a" stroke="#3a3a3a" stroke-width="0.07" textLength="23.2" lengthAdjust="spacingAndGlyphs">&lt;0.0001</text>
</svg>
</body></html>
